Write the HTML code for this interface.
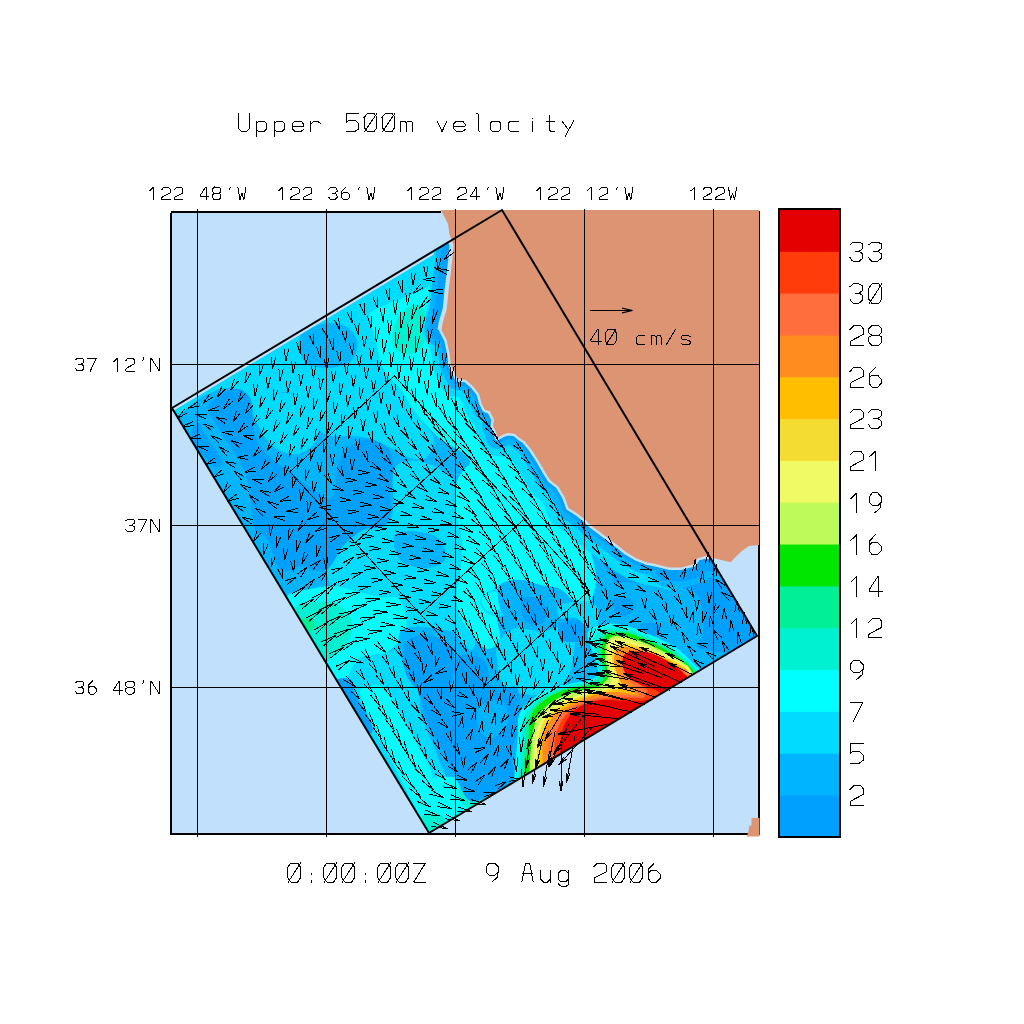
<!DOCTYPE html><html><head><meta charset="utf-8"><style>html,body{margin:0;padding:0;background:#fff;font-family:"Liberation Sans",sans-serif}svg{display:block}</style></head><body>
<svg width="1024" height="1024" viewBox="0 0 1024 1024">
<rect width="1024" height="1024" fill="#fff"/>
<defs><clipPath id="dom"><polygon points="172.0,408.0 502.0,210.0 757.0,636.0 429.0,833.0"/></clipPath><clipPath id="domf"><polygon points="173.6,410.9 503.6,212.9 757.0,636.0 429.0,833.0"/></clipPath></defs>
<rect x="172" y="213" width="586" height="620" fill="#c0e0fc"/>
<g clip-path="url(#domf)">
<polygon points="172.0,408.0 502.0,210.0 757.0,636.0 429.0,833.0" fill="#00b4ff"/>
<defs></defs><path d="M172.0 408.0C217.3 379.0 405.3 265.0 452.0 240.0C498.7 215.0 455.7 250.5 452.0 258.0C448.3 265.5 443.0 276.3 430.0 285.0C417.0 293.7 383.8 303.8 374.0 310.0C364.2 316.2 370.7 316.5 371.0 322.0C371.3 327.5 373.8 335.0 376.0 343.0C378.2 351.0 379.8 362.2 384.0 370.0C388.2 377.8 396.2 383.5 401.0 390.0C405.8 396.5 408.8 403.2 413.0 409.0C417.2 414.8 422.5 419.8 426.0 425.0C429.5 430.2 434.0 434.5 434.0 440.0C434.0 445.5 430.0 455.0 426.0 458.0C422.0 461.0 415.8 459.7 410.0 458.0C404.2 456.3 397.5 451.2 391.0 448.0C384.5 444.8 377.5 441.0 371.0 439.0C364.5 437.0 358.5 436.5 352.0 436.0C345.5 435.5 337.3 437.0 332.0 436.0C326.7 435.0 323.2 434.3 320.0 430.0C316.8 425.7 316.3 415.5 313.0 410.0C309.7 404.5 304.7 400.0 300.0 397.0C295.3 394.0 290.7 391.8 285.0 392.0C279.3 392.2 271.3 395.2 266.0 398.0C260.7 400.8 257.3 410.0 253.0 409.0C248.7 408.0 244.7 395.5 240.0 392.0C235.3 388.5 231.7 387.0 225.0 388.0C218.3 389.0 207.5 393.7 200.0 398.0C192.5 402.3 184.7 412.3 180.0 414.0C175.3 415.7 126.7 437.0 172.0 408.0Z" fill="#00dcff"/>
<path d="M300.0 337.0C302.8 330.7 314.5 325.8 322.0 324.0C329.5 322.2 339.2 323.2 345.0 326.0C350.8 328.8 355.8 335.3 357.0 341.0C358.2 346.7 356.5 355.5 352.0 360.0C347.5 364.5 337.8 367.7 330.0 368.0C322.2 368.3 310.0 367.2 305.0 362.0C300.0 356.8 297.2 343.3 300.0 337.0Z" fill="#00b4ff"/>
<path d="M253.0 409.0C254.0 403.8 260.8 400.7 266.0 398.0C271.2 395.3 277.5 393.0 284.0 393.0C290.5 393.0 299.5 395.0 305.0 398.0C310.5 401.0 314.5 405.8 317.0 411.0C319.5 416.2 320.7 423.3 320.0 429.0C319.3 434.7 316.8 440.8 313.0 445.0C309.2 449.2 302.3 453.0 297.0 454.0C291.7 455.0 285.7 453.0 281.0 451.0C276.3 449.0 272.5 445.7 269.0 442.0C265.5 438.3 262.7 434.5 260.0 429.0C257.3 423.5 252.0 414.2 253.0 409.0Z" fill="#00dcff"/>
<path d="M374.0 310.0C364.2 316.2 370.7 316.5 371.0 322.0C371.3 327.5 373.8 335.0 376.0 343.0C378.2 351.0 379.8 362.2 384.0 370.0C388.2 377.8 396.2 383.5 401.0 390.0C405.8 396.5 408.3 402.7 413.0 409.0C417.7 415.3 423.8 422.5 429.0 428.0C434.2 433.5 438.8 438.2 444.0 442.0C449.2 445.8 455.7 447.7 460.0 451.0C464.3 454.3 469.7 458.5 470.0 462.0C470.3 465.5 464.3 468.2 462.0 472.0C459.7 475.8 457.2 478.5 456.0 485.0C454.8 491.5 454.3 503.5 455.0 511.0C455.7 518.5 458.8 523.0 460.0 530.0C461.2 537.0 462.2 545.2 462.0 553.0C461.8 560.8 460.0 569.2 459.0 577.0C458.0 584.8 455.5 592.7 456.0 600.0C456.5 607.3 458.8 614.5 462.0 621.0C465.2 627.5 470.7 634.3 475.0 639.0C479.3 643.7 483.8 649.0 488.0 649.0C492.2 649.0 498.5 644.2 500.0 639.0C501.5 633.8 497.0 625.2 497.0 618.0C497.0 610.8 498.0 601.3 500.0 596.0C502.0 590.7 504.8 588.3 509.0 586.0C513.2 583.7 519.7 582.2 525.0 582.0C530.3 581.8 535.2 583.8 541.0 585.0C546.8 586.2 554.2 586.2 560.0 589.0C565.8 591.8 570.8 600.2 576.0 602.0C581.2 603.8 587.7 604.2 591.0 600.0C594.3 595.8 596.0 584.8 596.0 577.0C596.0 569.2 593.2 560.8 591.0 553.0C588.8 545.2 586.5 536.3 583.0 530.0C579.5 523.7 575.5 521.7 570.0 515.0C564.5 508.3 556.7 498.3 550.0 490.0C543.3 481.7 537.5 472.5 530.0 465.0C522.5 457.5 511.7 451.7 505.0 445.0C498.3 438.3 495.0 432.5 490.0 425.0C485.0 417.5 480.0 406.7 475.0 400.0C470.0 393.3 463.8 391.7 460.0 385.0C456.2 378.3 453.7 369.2 452.0 360.0C450.3 350.8 450.0 341.7 450.0 330.0C450.0 318.3 452.0 302.5 452.0 290.0C452.0 277.5 453.7 255.8 450.0 255.0C446.3 254.2 442.7 275.8 430.0 285.0C417.3 294.2 383.8 303.8 374.0 310.0Z" fill="#00ffff"/>
<path d="M413.0 305.0C417.2 304.0 421.8 306.0 424.0 310.0C426.2 314.0 426.5 322.7 426.0 329.0C425.5 335.3 424.2 343.8 421.0 348.0C417.8 352.2 411.5 354.0 407.0 354.0C402.5 354.0 396.3 351.7 394.0 348.0C391.7 344.3 392.2 337.3 393.0 332.0C393.8 326.7 395.7 320.5 399.0 316.0C402.3 311.5 408.8 306.0 413.0 305.0Z" fill="#00f0d2"/>
<path d="M394.0 470.0C396.8 461.7 404.2 462.0 410.0 461.0C415.8 460.0 423.3 462.2 429.0 464.0C434.7 465.8 439.8 469.0 444.0 472.0C448.2 475.0 452.2 475.5 454.0 482.0C455.8 488.5 454.0 503.0 455.0 511.0C456.0 519.0 458.8 523.0 460.0 530.0C461.2 537.0 462.2 545.2 462.0 553.0C461.8 560.8 460.0 569.2 459.0 577.0C458.0 584.8 455.5 592.7 456.0 600.0C456.5 607.3 458.8 614.5 462.0 621.0C465.2 627.5 473.7 634.2 475.0 639.0C476.3 643.8 473.8 651.2 470.0 650.0C466.2 648.8 458.5 635.3 452.0 632.0C445.5 628.7 439.7 630.3 431.0 630.0C422.3 629.7 408.3 635.5 400.0 630.0C391.7 624.5 387.8 603.3 381.0 597.0C374.2 590.7 365.8 595.3 359.0 592.0C352.2 588.7 344.2 582.7 340.0 577.0C335.8 571.3 333.5 563.2 334.0 558.0C334.5 552.8 338.2 550.7 343.0 546.0C347.8 541.3 356.2 533.3 363.0 530.0C369.8 526.7 379.0 529.2 384.0 526.0C389.0 522.8 391.3 520.3 393.0 511.0C394.7 501.7 391.2 478.3 394.0 470.0Z" fill="#00dcff"/>
<path d="M500.0 639.0C503.7 633.5 512.2 628.2 519.0 627.0C525.8 625.8 534.2 632.0 541.0 632.0C547.8 632.0 554.3 625.7 560.0 627.0C565.7 628.3 575.0 629.5 575.0 640.0C575.0 650.5 571.0 681.7 560.0 690.0C549.0 698.3 519.5 695.0 509.0 690.0C498.5 685.0 498.5 668.5 497.0 660.0C495.5 651.5 496.3 644.5 500.0 639.0Z" fill="#00dcff"/>
<path d="M330.0 545.0C336.7 537.5 358.3 540.0 370.0 540.0C381.7 540.0 390.0 543.7 400.0 545.0C410.0 546.3 421.3 545.5 430.0 548.0C438.7 550.5 447.7 553.0 452.0 560.0C456.3 567.0 456.3 580.8 456.0 590.0C455.7 599.2 455.2 609.0 450.0 615.0C444.8 621.0 433.3 625.2 425.0 626.0C416.7 626.8 407.5 624.3 400.0 620.0C392.5 615.7 388.3 604.7 380.0 600.0C371.7 595.3 358.3 594.5 350.0 592.0C341.7 589.5 333.3 592.8 330.0 585.0C326.7 577.2 323.3 552.5 330.0 545.0Z" fill="#00dcff"/>
<path d="M395.0 535.0C398.3 530.3 412.5 531.2 420.0 532.0C427.5 532.8 435.8 535.3 440.0 540.0C444.2 544.7 447.5 555.3 445.0 560.0C442.5 564.7 432.5 568.0 425.0 568.0C417.5 568.0 405.0 565.5 400.0 560.0C395.0 554.5 391.7 539.7 395.0 535.0Z" fill="#00b4ff"/>
<path d="M480.0 600.0C481.7 595.0 493.3 588.3 500.0 585.0C506.7 581.7 513.3 579.2 520.0 580.0C526.7 580.8 538.3 585.0 540.0 590.0C541.7 595.0 535.0 605.8 530.0 610.0C525.0 614.2 516.7 614.2 510.0 615.0C503.3 615.8 495.0 617.5 490.0 615.0C485.0 612.5 478.3 605.0 480.0 600.0Z" fill="#00dcff"/>
<path d="M482.0 598.0C483.7 595.0 492.2 591.7 496.0 592.0C499.8 592.3 504.7 597.0 505.0 600.0C505.3 603.0 501.2 608.3 498.0 610.0C494.8 611.7 488.7 612.0 486.0 610.0C483.3 608.0 480.3 601.0 482.0 598.0Z" fill="#00ffff"/>
<path d="M287.0 596.0C289.5 592.3 302.2 590.7 310.0 589.0C317.8 587.3 325.8 585.5 334.0 586.0C342.2 586.5 351.2 590.2 359.0 592.0C366.8 593.8 374.2 595.7 381.0 597.0C387.8 598.3 395.8 594.5 400.0 600.0C404.2 605.5 408.0 621.3 406.0 630.0C404.0 638.7 393.3 647.8 388.0 652.0C382.7 656.2 378.8 653.0 374.0 655.0C369.2 657.0 363.2 660.2 359.0 664.0C354.8 667.8 352.2 673.7 349.0 678.0C345.8 682.3 342.5 688.0 340.0 690.0C337.5 692.0 341.5 703.2 334.0 690.0C326.5 676.8 302.8 626.7 295.0 611.0C287.2 595.3 284.5 599.7 287.0 596.0Z" fill="#00ffff"/>
<path d="M296.0 608.0C297.8 603.8 306.7 602.8 313.0 602.0C319.3 601.2 328.0 601.0 334.0 603.0C340.0 605.0 346.0 609.5 349.0 614.0C352.0 618.5 352.5 624.7 352.0 630.0C351.5 635.3 349.0 641.8 346.0 646.0C343.0 650.2 337.7 652.2 334.0 655.0C330.3 657.8 327.2 664.0 324.0 663.0C320.8 662.0 318.7 655.0 315.0 649.0C311.3 643.0 305.2 633.8 302.0 627.0C298.8 620.2 294.2 612.2 296.0 608.0Z" fill="#00f0d2"/>
<path d="M302.0 619.0C302.7 617.0 307.8 617.2 310.0 618.0C312.2 618.8 314.7 622.0 315.0 624.0C315.3 626.0 313.5 629.0 312.0 630.0C310.5 631.0 307.7 631.8 306.0 630.0C304.3 628.2 301.3 621.0 302.0 619.0Z" fill="#00f096"/>
<path d="M359.0 658.0C363.2 654.7 368.8 656.0 374.0 655.0C379.2 654.0 385.7 653.5 390.0 652.0C394.3 650.5 395.0 641.3 400.0 646.0C405.0 650.7 428.2 674.3 420.0 680.0C411.8 685.7 362.8 680.8 351.0 680.0C339.2 679.2 347.7 678.7 349.0 675.0C350.3 671.3 354.8 661.3 359.0 658.0Z" fill="#00dcff"/>
<path d="M351.0 680.0C361.5 674.8 405.5 674.8 417.0 680.0C428.5 685.2 417.5 700.7 420.0 711.0C422.5 721.3 427.8 731.5 432.0 742.0C436.2 752.5 441.3 766.2 445.0 774.0C448.7 781.8 456.2 784.8 454.0 789.0C451.8 793.2 438.2 793.7 432.0 799.0C425.8 804.3 418.7 815.3 417.0 821.0C415.3 826.7 427.8 840.8 422.0 833.0C416.2 825.2 391.2 789.2 382.0 774.0C372.8 758.8 371.7 752.5 367.0 742.0C362.3 731.5 356.7 721.3 354.0 711.0C351.3 700.7 340.5 685.2 351.0 680.0Z" fill="#00dcff"/>
<path d="M361.0 689.0C364.0 685.8 376.3 683.7 382.0 686.0C387.7 688.3 390.7 696.2 395.0 703.0C399.3 709.8 403.8 719.2 408.0 727.0C412.2 734.8 416.0 742.2 420.0 750.0C424.0 757.8 430.5 766.2 432.0 774.0C433.5 781.8 430.5 789.2 429.0 797.0C427.5 804.8 425.5 819.7 423.0 821.0C420.5 822.3 418.2 812.8 414.0 805.0C409.8 797.2 402.7 783.2 398.0 774.0C393.3 764.8 390.2 757.8 386.0 750.0C381.8 742.2 376.7 734.5 373.0 727.0C369.3 719.5 366.0 711.3 364.0 705.0C362.0 698.7 358.0 692.2 361.0 689.0Z" fill="#00ffff"/>
<path d="M429.0 782.0C434.2 774.7 444.5 777.3 453.0 777.0C461.5 776.7 472.2 777.0 480.0 780.0C487.8 783.0 503.7 788.7 500.0 795.0C496.3 801.3 469.3 812.2 458.0 818.0C446.7 823.8 438.0 829.5 432.0 830.0C426.0 830.5 422.5 829.0 422.0 821.0C421.5 813.0 423.8 789.3 429.0 782.0Z" fill="#00ffff"/>
<path d="M458.0 789.0C460.2 785.3 474.7 784.2 480.0 786.0C485.3 787.8 492.2 796.3 490.0 800.0C487.8 803.7 472.3 809.8 467.0 808.0C461.7 806.2 455.8 792.7 458.0 789.0Z" fill="#00f0d2"/>
<path d="M420.0 818.0C421.7 814.8 434.8 813.0 439.0 814.0C443.2 815.0 446.7 820.8 445.0 824.0C443.3 827.2 433.2 834.0 429.0 833.0C424.8 832.0 418.3 821.2 420.0 818.0Z" fill="#00f0d2"/>
<path d="M208.0 406.0C210.3 402.3 218.8 395.8 224.0 393.0C229.2 390.2 234.7 388.2 239.0 389.0C243.3 389.8 247.8 394.3 250.0 398.0C252.2 401.7 251.5 406.5 252.0 411.0C252.5 415.5 252.3 420.7 253.0 425.0C253.7 429.3 254.3 432.8 256.0 437.0C257.7 441.2 260.3 446.3 263.0 450.0C265.7 453.7 268.5 456.0 272.0 459.0C275.5 462.0 279.8 464.8 284.0 468.0C288.2 471.2 292.2 474.5 297.0 478.0C301.8 481.5 307.2 485.7 313.0 489.0C318.8 492.3 327.8 502.2 332.0 498.0C336.2 493.8 335.3 472.3 338.0 464.0C340.7 455.7 343.8 452.0 348.0 448.0C352.2 444.0 357.8 441.0 363.0 440.0C368.2 439.0 374.3 439.7 379.0 442.0C383.7 444.3 388.7 449.0 391.0 454.0C393.3 459.0 393.2 465.2 393.0 472.0C392.8 478.8 390.3 488.5 390.0 495.0C389.7 501.5 392.0 505.8 391.0 511.0C390.0 516.2 388.7 522.8 384.0 526.0C379.3 529.2 369.8 526.7 363.0 530.0C356.2 533.3 347.8 540.8 343.0 546.0C338.2 551.2 337.2 556.8 334.0 561.0C330.8 565.2 328.0 569.7 324.0 571.0C320.0 572.3 314.2 569.8 310.0 569.0C305.8 568.2 302.8 565.7 299.0 566.0C295.2 566.3 290.8 571.3 287.0 571.0C283.2 570.7 279.2 569.2 276.0 564.0C272.8 558.8 271.5 545.7 268.0 540.0C264.5 534.3 257.7 534.8 255.0 530.0C252.3 525.2 253.0 517.8 252.0 511.0C251.0 504.2 250.2 495.5 249.0 489.0C247.8 482.5 246.8 477.2 245.0 472.0C243.2 466.8 241.0 463.0 238.0 458.0C235.0 453.0 230.5 447.3 227.0 442.0C223.5 436.7 219.8 430.5 217.0 426.0C214.2 421.5 211.5 418.3 210.0 415.0C208.5 411.7 205.7 409.7 208.0 406.0Z" fill="#00a0ff"/>
<path d="M192.0 432.0C192.8 428.7 196.7 422.3 199.0 423.0C201.3 423.7 203.5 431.8 206.0 436.0C208.5 440.2 211.3 443.8 214.0 448.0C216.7 452.2 221.2 457.8 222.0 461.0C222.8 464.2 220.8 466.5 219.0 467.0C217.2 467.5 214.2 466.7 211.0 464.0C207.8 461.3 202.8 454.5 200.0 451.0C197.2 447.5 195.3 446.2 194.0 443.0C192.7 439.8 191.2 435.3 192.0 432.0Z" fill="#00a0ff"/>
<path d="M500.0 585.0C503.7 580.3 515.2 579.8 522.0 580.0C528.8 580.2 534.7 584.0 541.0 586.0C547.3 588.0 553.5 588.0 560.0 592.0C566.5 596.0 580.0 604.7 580.0 610.0C580.0 615.3 565.3 620.7 560.0 624.0C554.7 627.3 552.5 629.0 548.0 630.0C543.5 631.0 539.0 631.0 533.0 630.0C527.0 629.0 517.5 627.7 512.0 624.0C506.5 620.3 502.0 614.5 500.0 608.0C498.0 601.5 496.3 589.7 500.0 585.0Z" fill="#00b4ff"/>
<path d="M522.0 599.0C524.2 595.3 533.8 597.0 538.0 599.0C542.2 601.0 546.5 606.8 547.0 611.0C547.5 615.2 544.7 622.3 541.0 624.0C537.3 625.7 528.2 625.2 525.0 621.0C521.8 616.8 519.8 602.7 522.0 599.0Z" fill="#00a0ff"/>
<path d="M400.0 632.0C405.3 622.3 442.3 628.7 452.0 632.0C461.7 635.3 452.0 648.2 458.0 652.0C464.0 655.8 482.0 648.7 488.0 655.0C494.0 661.3 505.3 684.2 494.0 690.0C482.7 695.8 435.7 699.7 420.0 690.0C404.3 680.3 394.7 641.7 400.0 632.0Z" fill="#00b4ff"/>
<path d="M406.0 642.0C410.3 636.2 423.3 634.8 431.0 636.0C438.7 637.2 448.3 643.2 452.0 649.0C455.7 654.8 453.8 664.2 453.0 671.0C452.2 677.8 452.5 686.8 447.0 690.0C441.5 693.2 427.0 693.2 420.0 690.0C413.0 686.8 407.3 679.0 405.0 671.0C402.7 663.0 401.7 647.8 406.0 642.0Z" fill="#00a0ff"/>
<path d="M456.0 658.0C459.7 652.7 475.7 655.8 481.0 658.0C486.3 660.2 487.5 665.7 488.0 671.0C488.5 676.3 488.8 686.8 484.0 690.0C479.2 693.2 463.7 695.3 459.0 690.0C454.3 684.7 452.3 663.3 456.0 658.0Z" fill="#00a0ff"/>
<path d="M337.0 680.0C338.3 677.3 347.8 677.3 351.0 680.0C354.2 682.7 353.3 690.3 356.0 696.0C358.7 701.7 364.2 708.3 367.0 714.0C369.8 719.7 373.0 727.0 373.0 730.0C373.0 733.0 369.8 734.7 367.0 732.0C364.2 729.3 360.0 720.0 356.0 714.0C352.0 708.0 346.2 701.7 343.0 696.0C339.8 690.3 335.7 682.7 337.0 680.0Z" fill="#00a0ff"/>
<path d="M420.0 688.0C425.3 685.2 444.0 687.3 454.0 686.0C464.0 684.7 472.3 679.3 480.0 680.0C487.7 680.7 493.8 688.7 500.0 690.0C506.2 691.3 513.7 682.7 517.0 688.0C520.3 693.3 521.0 711.0 520.0 722.0C519.0 733.0 512.0 744.5 511.0 754.0C510.0 763.5 517.0 772.5 514.0 779.0C511.0 785.5 500.3 789.3 493.0 793.0C485.7 796.7 476.5 804.2 470.0 801.0C463.5 797.8 458.7 782.5 454.0 774.0C449.3 765.5 446.2 757.8 442.0 750.0C437.8 742.2 432.3 734.8 429.0 727.0C425.7 719.2 423.5 709.5 422.0 703.0C420.5 696.5 414.7 690.8 420.0 688.0Z" fill="#00a0ff"/>
<path d="M479.0 707.0C482.7 702.2 496.2 698.5 501.0 701.0C505.8 703.5 509.3 715.8 508.0 722.0C506.7 728.2 497.8 736.7 493.0 738.0C488.2 739.3 481.3 735.2 479.0 730.0C476.7 724.8 475.3 711.8 479.0 707.0Z" fill="#00b4ff"/>
<path d="M612.0 549.0C636.7 543.8 735.3 530.8 760.0 546.0C784.7 561.2 769.8 622.8 760.0 640.0C750.2 657.2 711.3 652.7 701.0 649.0C690.7 645.3 700.2 625.3 698.0 618.0C695.8 610.7 692.8 608.2 688.0 605.0C683.2 601.8 675.7 601.2 669.0 599.0C662.3 596.8 655.8 593.2 648.0 592.0C640.2 590.8 628.0 594.5 622.0 592.0C616.0 589.5 613.7 584.2 612.0 577.0C610.3 569.8 587.3 554.2 612.0 549.0Z" fill="#00a0ff"/>
<path d="M607.0 585.0C617.3 579.7 653.8 584.2 669.0 586.0C684.2 587.8 692.7 587.2 698.0 596.0C703.3 604.8 705.8 631.8 701.0 639.0C696.2 646.2 679.5 642.5 669.0 639.0C658.5 635.5 648.3 621.5 638.0 618.0C627.7 614.5 612.2 623.5 607.0 618.0C601.8 612.5 596.7 590.3 607.0 585.0Z" fill="#00b4ff"/>
<path d="M612.0 600.0C613.8 597.2 626.5 597.2 630.0 599.0C633.5 600.8 634.8 608.2 633.0 611.0C631.2 613.8 622.5 617.8 619.0 616.0C615.5 614.2 610.2 602.8 612.0 600.0Z" fill="#00a0ff"/>
<path d="M641.0 624.0C643.2 622.2 654.2 622.2 657.0 624.0C659.8 625.8 660.2 633.2 658.0 635.0C655.8 636.8 646.8 636.8 644.0 635.0C641.2 633.2 638.8 625.8 641.0 624.0Z" fill="#00a0ff"/>
<path d="M560.0 624.0C563.8 621.0 578.8 618.5 583.0 621.0C587.2 623.5 587.3 635.5 585.0 639.0C582.7 642.5 573.2 642.0 569.0 642.0C564.8 642.0 561.5 642.0 560.0 639.0C558.5 636.0 556.2 627.0 560.0 624.0Z" fill="#00a0ff"/>
<path d="M560.0 605.0C565.2 602.3 584.5 599.8 591.0 602.0C597.5 604.2 599.0 613.3 599.0 618.0C599.0 622.7 594.8 630.0 591.0 630.0C587.2 630.0 581.2 620.0 576.0 618.0C570.8 616.0 562.7 620.2 560.0 618.0C557.3 615.8 554.8 607.7 560.0 605.0Z" fill="#00dcff"/>
<path d="M512.0 800.0C509.9 793.4 513.6 785.9 514.5 775.6C515.4 765.3 516.8 748.2 517.6 738.1C518.4 728.0 516.7 721.2 519.2 714.7C521.7 708.2 527.1 703.5 532.5 699.1C537.9 694.7 544.8 690.7 551.3 688.1C557.8 685.5 565.4 684.7 571.6 683.4C577.9 682.1 584.4 682.2 588.8 680.3C593.2 678.4 597.5 677.0 598.0 672.0C598.5 667.0 593.7 656.7 592.0 650.0C590.3 643.3 585.5 636.0 588.0 631.6C590.5 627.2 599.9 624.6 606.9 623.8C613.9 623.0 622.5 624.8 630.3 626.9C638.1 629.0 646.0 632.6 653.8 636.3C661.6 639.9 669.9 643.6 677.2 648.8C684.5 654.0 692.9 663.1 697.5 667.5C702.1 671.9 702.9 669.6 705.0 675.0C707.1 680.4 727.5 682.5 710.0 700.0C692.5 717.5 630.5 760.8 600.0 780.0C569.5 799.2 541.7 811.7 527.0 815.0C512.3 818.3 514.1 806.6 512.0 800.0Z" fill="#00ffff"/>
<path d="M515.5 800.0C514.8 797.9 516.0 795.0 516.3 792.6C516.5 790.1 516.8 787.6 517.1 785.1C517.3 782.7 517.6 780.2 517.8 777.7C518.1 775.2 518.3 772.7 518.5 770.3C518.8 767.8 519.0 765.3 519.2 762.8C519.4 760.3 519.7 757.9 519.9 755.4C520.1 752.9 520.3 750.4 520.5 747.9C520.8 745.4 521.0 743.0 521.2 740.5C521.4 738.0 521.6 735.5 521.8 733.0C522.0 730.6 522.3 728.1 522.5 725.6C522.7 723.1 522.5 720.5 523.1 718.2C523.8 715.9 525.2 713.8 526.5 711.8C527.8 709.8 529.4 707.8 531.0 705.9C532.6 704.1 534.2 702.2 536.1 700.6C537.9 699.0 540.1 697.7 542.2 696.4C544.3 695.1 546.5 693.8 548.6 692.6C550.8 691.4 553.0 690.3 555.3 689.4C557.6 688.6 560.1 688.2 562.5 687.5C564.9 686.9 567.4 686.3 569.8 685.7C572.2 685.2 574.6 684.6 577.1 684.1C579.5 683.6 582.1 683.4 584.4 682.8C586.8 682.1 589.0 681.4 591.2 680.3C593.4 679.3 596.2 678.3 597.4 676.6C598.5 674.9 598.1 672.4 598.2 670.2C598.4 668.0 598.6 665.7 598.3 663.4C598.0 661.0 597.0 658.6 596.4 656.1C595.8 653.7 595.2 651.3 594.7 648.8C594.3 646.4 593.4 643.7 593.6 641.5C593.7 639.3 594.2 637.3 595.5 635.6C596.7 634.0 599.0 632.8 600.9 631.5C602.8 630.2 604.8 628.3 607.0 627.6C609.3 627.0 611.9 627.7 614.4 627.8C616.8 627.9 619.3 628.2 621.8 628.4C624.3 628.7 626.8 628.7 629.2 629.3C631.6 629.8 633.9 630.9 636.2 631.8C638.5 632.7 640.8 633.7 643.1 634.6C645.5 635.5 647.8 636.4 650.1 637.4C652.4 638.3 654.6 639.4 656.8 640.6C659.0 641.7 661.2 642.9 663.4 644.0C665.6 645.2 667.9 646.3 670.1 647.5C672.2 648.7 674.5 649.8 676.5 651.2C678.5 652.6 680.3 654.5 682.2 656.1C684.1 657.7 686.0 659.3 687.8 661.0C689.7 662.6 691.5 664.3 693.2 666.1C694.9 667.8 696.6 669.7 698.0 671.7C699.4 673.6 700.9 675.6 701.8 677.8C702.7 680.0 702.8 682.7 703.3 685.1C703.9 687.5 704.5 690.0 704.9 692.4C705.3 694.8 706.6 697.5 705.9 699.5C705.2 701.5 702.6 702.8 700.8 704.3C698.9 705.9 696.8 707.3 694.8 708.8C692.8 710.3 690.8 711.8 688.8 713.3C686.8 714.8 684.8 716.3 682.8 717.8C680.8 719.3 678.9 720.8 676.9 722.3C674.9 723.8 672.9 725.3 670.9 726.8C668.9 728.3 666.9 729.8 664.9 731.3C662.9 732.7 660.9 734.2 658.9 735.7C656.9 737.2 654.9 738.7 653.0 740.2C651.0 741.7 649.0 743.2 647.0 744.7C645.0 746.2 643.0 747.7 641.0 749.2C639.0 750.7 637.0 752.2 635.0 753.7C633.0 755.2 631.0 756.7 629.1 758.2C627.1 759.7 625.1 761.2 623.1 762.7C621.1 764.1 619.1 765.6 617.1 767.1C615.1 768.6 613.1 770.1 611.1 771.6C609.1 773.1 607.2 774.6 605.1 776.1C603.1 777.6 601.2 779.2 599.1 780.4C596.9 781.7 594.6 782.6 592.3 783.7C590.1 784.7 587.8 785.8 585.6 786.9C583.3 787.9 581.1 789.0 578.8 790.1C576.6 791.2 574.3 792.2 572.1 793.3C569.8 794.4 567.6 795.4 565.3 796.5C563.1 797.6 560.8 798.7 558.6 799.7C556.4 800.8 554.1 801.9 551.9 802.9C549.6 804.0 547.4 805.1 545.1 806.2C542.9 807.2 540.6 808.3 538.4 809.4C536.1 810.5 533.7 812.3 531.6 812.6C529.5 812.8 527.6 812.1 525.7 810.9C523.9 809.7 522.3 807.2 520.6 805.4C518.9 803.6 516.2 802.1 515.5 800.0Z" fill="#00f0d2"/>
<path d="M519.0 800.0C518.3 797.9 519.5 795.2 519.8 792.8C520.0 790.4 520.3 788.0 520.6 785.6C520.8 783.2 521.1 780.9 521.3 778.5C521.6 776.1 521.8 773.7 522.1 771.3C522.3 768.9 522.5 766.5 522.8 764.1C523.0 761.7 523.2 759.3 523.5 756.9C523.7 754.5 523.9 752.1 524.2 749.7C524.4 747.3 524.6 744.9 524.9 742.5C525.1 740.1 525.3 737.7 525.5 735.3C525.8 732.9 526.1 730.5 526.3 728.2C526.6 725.8 526.7 723.3 527.1 721.0C527.6 718.7 528.2 716.4 529.2 714.3C530.2 712.2 531.7 710.3 533.2 708.5C534.6 706.6 536.2 704.7 537.9 703.1C539.6 701.4 541.5 700.0 543.5 698.7C545.4 697.3 547.6 696.1 549.7 695.0C551.8 693.8 553.8 692.5 556.0 691.5C558.2 690.6 560.6 690.2 562.9 689.5C565.2 688.9 567.5 688.2 569.9 687.6C572.2 687.0 574.5 686.4 576.9 685.9C579.2 685.3 581.6 685.0 584.0 684.5C586.3 684.0 588.6 683.5 590.8 682.9C593.1 682.2 595.8 682.0 597.4 680.6C599.0 679.3 599.5 676.9 600.3 674.9C601.1 672.9 602.3 671.0 602.4 668.8C602.4 666.6 601.2 664.1 600.6 661.7C600.1 659.4 599.4 657.1 599.0 654.7C598.6 652.4 598.2 649.9 598.3 647.6C598.3 645.3 598.6 643.1 599.4 641.1C600.3 639.2 601.7 637.5 603.2 635.8C604.7 634.1 606.3 631.8 608.3 631.0C610.3 630.2 613.0 630.9 615.4 630.9C617.7 631.0 620.2 631.1 622.6 631.2C625.0 631.4 627.4 631.3 629.7 631.9C632.0 632.4 634.2 633.6 636.4 634.4C638.7 635.3 640.9 636.2 643.1 637.1C645.4 638.0 647.6 638.8 649.8 639.8C652.0 640.8 654.2 641.9 656.3 642.9C658.5 644.0 660.6 645.1 662.8 646.2C664.9 647.3 667.1 648.4 669.2 649.5C671.3 650.7 673.4 651.8 675.4 653.2C677.4 654.6 679.1 656.2 681.0 657.7C682.9 659.2 684.8 660.7 686.6 662.2C688.4 663.8 690.3 665.4 691.8 667.2C693.3 669.0 694.6 671.0 695.7 673.1C696.8 675.2 697.7 677.3 698.4 679.6C699.1 681.8 699.4 684.3 700.0 686.6C700.5 689.0 701.2 691.4 701.6 693.7C701.9 695.9 702.9 698.4 702.1 700.3C701.2 702.2 698.6 703.4 696.7 704.9C694.9 706.4 692.9 707.8 691.0 709.3C689.1 710.8 687.2 712.3 685.3 713.8C683.4 715.2 681.5 716.7 679.6 718.2C677.7 719.7 675.8 721.1 673.9 722.6C672.0 724.1 670.1 725.6 668.2 727.0C666.3 728.5 664.4 730.0 662.5 731.5C660.6 732.9 658.7 734.4 656.8 735.9C654.9 737.4 653.0 738.8 651.1 740.3C649.2 741.8 647.3 743.3 645.4 744.7C643.5 746.2 641.6 747.7 639.7 749.2C637.8 750.6 635.9 752.1 634.0 753.6C632.1 755.1 630.2 756.6 628.3 758.0C626.4 759.5 624.5 761.0 622.6 762.5C620.7 763.9 618.8 765.4 616.9 766.9C615.0 768.4 613.1 769.8 611.2 771.3C609.3 772.8 607.4 774.3 605.5 775.7C603.6 777.2 601.7 778.8 599.7 780.1C597.7 781.3 595.4 782.2 593.2 783.2C591.0 784.3 588.9 785.3 586.7 786.3C584.5 787.3 582.3 788.4 580.2 789.4C578.0 790.4 575.8 791.5 573.6 792.5C571.4 793.5 569.3 794.6 567.1 795.6C564.9 796.6 562.7 797.6 560.6 798.7C558.4 799.7 556.2 800.7 554.0 801.8C551.9 802.8 549.7 803.8 547.5 804.9C545.3 805.9 543.2 806.9 541.0 807.9C538.8 809.0 536.5 810.6 534.5 811.0C532.4 811.5 530.3 811.8 528.6 810.8C526.8 809.9 525.4 807.2 523.8 805.4C522.2 803.6 519.7 802.1 519.0 800.0Z" fill="#00f096"/>
<path d="M522.0 800.0C520.9 792.9 524.3 779.7 525.4 769.4C526.5 759.1 527.5 747.2 528.6 738.1C529.7 729.0 529.5 720.7 531.7 714.7C533.9 708.7 537.6 705.9 541.9 702.2C546.2 698.6 551.2 695.4 557.5 692.8C563.8 690.2 572.6 688.1 579.4 686.6C586.1 685.1 593.6 686.1 598.0 684.0C602.4 681.9 605.3 678.5 606.0 674.0C606.7 669.5 602.5 662.3 602.0 657.0C601.5 651.7 601.8 646.1 603.1 642.2C604.4 638.3 605.3 635.0 609.6 633.6C613.9 632.2 622.1 632.2 628.9 633.6C635.7 635.0 643.2 639.0 650.4 642.2C657.6 645.4 665.5 649.0 671.9 653.0C678.3 657.0 685.4 662.7 689.0 665.9C692.6 669.1 691.5 666.6 693.3 672.3C695.1 678.0 715.5 682.0 700.0 700.0C684.5 718.0 628.0 761.3 600.0 780.0C572.0 798.7 545.0 808.7 532.0 812.0C519.0 815.3 523.1 807.1 522.0 800.0Z" fill="#00e600"/>
<path d="M526.5 800.0C525.9 797.9 526.9 795.5 527.1 793.2C527.3 790.9 527.6 788.7 527.8 786.4C528.0 784.1 528.2 781.9 528.4 779.6C528.6 777.3 528.8 775.0 529.0 772.8C529.3 770.5 529.4 768.2 529.6 766.0C529.8 763.7 530.0 761.4 530.2 759.2C530.3 756.9 530.5 754.6 530.7 752.3C530.9 750.1 531.0 747.8 531.2 745.5C531.4 743.3 531.6 741.0 531.9 738.7C532.2 736.5 532.8 734.3 533.2 732.0C533.6 729.8 534.0 727.5 534.5 725.3C535.0 723.1 535.2 720.8 536.1 718.8C537.0 716.8 538.6 715.1 539.9 713.2C541.3 711.4 542.6 709.5 544.2 707.9C545.8 706.3 547.6 705.0 549.4 703.7C551.3 702.4 553.3 701.2 555.2 700.0C557.2 698.9 559.1 697.6 561.2 696.7C563.2 695.7 565.5 695.2 567.6 694.5C569.8 693.8 572.0 693.2 574.2 692.5C576.3 691.9 578.5 691.2 580.7 690.6C582.9 690.1 585.2 689.7 587.4 689.2C589.6 688.8 591.9 688.5 594.1 688.0C596.3 687.5 598.7 687.3 600.5 686.2C602.4 685.1 603.8 683.0 605.2 681.3C606.6 679.6 608.4 677.9 608.8 675.9C609.1 673.9 607.8 671.5 607.3 669.3C606.8 667.0 606.2 664.8 605.9 662.6C605.5 660.3 605.2 658.1 605.2 655.8C605.1 653.6 605.2 651.2 605.4 649.0C605.7 646.8 605.7 644.5 606.6 642.5C607.5 640.6 609.1 638.3 610.8 637.2C612.5 636.2 614.8 636.2 617.0 636.0C619.1 635.9 621.5 636.3 623.8 636.6C626.0 636.8 628.3 636.9 630.5 637.4C632.7 638.0 634.8 639.1 636.9 639.9C639.0 640.7 641.1 641.6 643.2 642.4C645.4 643.2 647.5 644.0 649.6 644.9C651.7 645.8 653.8 646.7 655.8 647.7C657.9 648.7 659.9 649.7 662.0 650.7C664.0 651.7 666.1 652.7 668.1 653.7C670.1 654.8 672.1 655.9 674.1 657.0C676.0 658.1 678.0 659.3 679.9 660.5C681.8 661.8 683.6 663.1 685.4 664.6C687.1 666.0 689.1 667.4 690.3 669.2C691.5 671.0 692.1 673.3 692.8 675.5C693.5 677.6 693.9 679.9 694.5 682.1C695.0 684.3 695.6 686.5 696.1 688.7C696.7 691.0 697.6 693.3 697.8 695.4C698.0 697.5 698.4 699.6 697.4 701.3C696.5 703.0 693.9 704.2 692.2 705.7C690.4 707.2 688.7 708.6 686.9 710.1C685.2 711.5 683.4 713.0 681.7 714.4C679.9 715.9 678.2 717.4 676.4 718.8C674.7 720.3 672.9 721.7 671.2 723.2C669.4 724.6 667.7 726.1 665.9 727.6C664.1 729.0 662.4 730.5 660.6 731.9C658.9 733.4 657.1 734.8 655.4 736.3C653.6 737.8 651.9 739.2 650.1 740.7C648.4 742.1 646.6 743.6 644.9 745.1C643.1 746.5 641.4 748.0 639.6 749.4C637.9 750.9 636.1 752.3 634.4 753.8C632.6 755.3 630.9 756.7 629.1 758.2C627.4 759.6 625.6 761.1 623.9 762.5C622.1 764.0 620.4 765.5 618.6 766.9C616.9 768.4 615.1 769.8 613.4 771.3C611.6 772.7 609.9 774.2 608.1 775.7C606.4 777.1 604.7 778.7 602.9 780.0C601.0 781.4 599.2 782.7 597.2 783.7C595.2 784.8 593.0 785.6 591.0 786.5C588.9 787.5 586.8 788.4 584.7 789.3C582.6 790.2 580.5 791.1 578.4 792.0C576.3 792.9 574.2 793.8 572.2 794.7C570.1 795.6 568.0 796.5 565.9 797.4C563.8 798.3 561.7 799.2 559.6 800.1C557.5 801.1 555.4 802.0 553.4 802.9C551.3 803.8 549.2 804.7 547.1 805.6C545.0 806.5 542.9 807.6 540.8 808.3C538.8 809.1 536.5 810.5 534.8 810.1C533.0 809.6 531.8 807.2 530.5 805.5C529.1 803.9 527.1 802.1 526.5 800.0Z" fill="#befa5a"/>
<path d="M531.0 800.0C530.4 793.2 532.7 779.2 533.3 769.4C533.9 759.6 533.7 749.1 534.8 741.3C535.9 733.5 537.3 727.7 539.7 722.5C542.1 717.3 545.3 713.6 549.3 710.0C553.3 706.4 558.3 703.2 563.8 700.6C569.3 698.0 576.1 696.2 582.5 694.4C588.9 692.6 597.1 692.4 602.0 690.0C606.9 687.6 611.0 685.0 612.0 680.0C613.0 675.0 608.7 665.8 608.0 660.0C607.3 654.2 606.9 648.7 608.0 645.0C609.1 641.3 611.0 638.8 614.7 638.0C618.4 637.2 623.8 638.6 630.3 640.5C636.8 642.4 645.2 645.8 653.8 649.5C662.4 653.2 675.9 659.6 681.9 663.0C687.9 666.4 687.3 663.8 690.0 670.0C692.7 676.2 713.0 680.8 698.0 700.0C683.0 719.2 626.8 766.7 600.0 785.0C573.2 803.3 548.5 807.5 537.0 810.0C525.5 812.5 531.6 806.8 531.0 800.0Z" fill="#f0fa64"/>
<path d="M534.0 800.0C533.6 797.9 534.3 795.6 534.5 793.3C534.6 791.1 534.8 788.9 534.9 786.7C535.1 784.5 535.3 782.3 535.4 780.0C535.6 777.8 535.8 775.6 535.9 773.4C536.1 771.2 536.3 769.0 536.4 766.7C536.5 764.5 536.6 762.3 536.7 760.1C536.8 757.9 536.9 755.6 536.9 753.4C537.0 751.2 537.1 749.0 537.2 746.7C537.3 744.5 537.2 742.3 537.6 740.1C537.9 737.9 538.7 735.8 539.3 733.7C539.9 731.6 540.5 729.4 541.3 727.3C542.0 725.3 542.7 723.1 543.8 721.3C544.9 719.4 546.6 717.8 548.0 716.1C549.4 714.4 550.6 712.4 552.2 710.9C553.8 709.5 555.9 708.5 557.8 707.3C559.6 706.1 561.5 704.9 563.5 703.8C565.4 702.7 567.3 701.6 569.3 700.7C571.3 699.8 573.5 699.2 575.6 698.5C577.7 697.8 579.8 697.0 581.9 696.3C584.0 695.6 586.1 694.9 588.2 694.3C590.4 693.7 592.6 693.3 594.7 692.8C596.9 692.4 599.2 692.1 601.3 691.6C603.4 691.1 605.5 690.5 607.4 689.7C609.3 688.8 611.1 687.6 612.8 686.5C614.4 685.5 616.2 684.6 617.2 683.4C618.1 682.1 618.7 680.9 618.5 679.2C618.3 677.6 616.7 675.4 615.9 673.5C615.1 671.6 614.1 669.8 613.4 667.8C612.8 665.8 612.5 663.7 612.2 661.6C611.8 659.5 611.1 657.1 611.3 655.1C611.5 653.1 612.5 651.2 613.4 649.7C614.3 648.2 615.4 647.0 616.7 646.2C618.0 645.3 619.7 645.2 621.4 644.8C623.0 644.3 624.8 643.6 626.7 643.6C628.6 643.6 630.7 644.3 632.8 644.7C634.9 645.2 637.1 645.7 639.2 646.3C641.3 646.9 643.4 647.5 645.5 648.2C647.6 648.9 649.7 649.7 651.7 650.6C653.8 651.4 655.8 652.3 657.9 653.2C659.9 654.1 661.9 654.9 664.0 655.9C666.0 656.8 668.0 657.8 670.0 658.8C672.0 659.7 674.0 660.6 676.0 661.7C677.9 662.8 679.7 664.0 681.5 665.2C683.4 666.5 685.4 667.6 686.8 669.2C688.2 670.8 689.0 672.8 689.8 674.7C690.7 676.6 691.4 678.7 692.0 680.8C692.7 682.9 693.1 685.1 693.7 687.2C694.3 689.4 695.1 691.6 695.4 693.7C695.7 695.8 695.9 697.8 695.4 699.6C694.8 701.4 693.3 702.9 691.9 704.5C690.5 706.0 688.6 707.5 686.9 708.9C685.2 710.4 683.6 711.9 681.9 713.4C680.3 714.9 678.6 716.3 677.0 717.8C675.3 719.3 673.6 720.8 672.0 722.3C670.3 723.7 668.7 725.2 667.0 726.7C665.3 728.2 663.7 729.7 662.0 731.1C660.4 732.6 658.7 734.1 657.1 735.6C655.4 737.1 653.7 738.6 652.1 740.0C650.4 741.5 648.8 743.0 647.1 744.5C645.4 746.0 643.8 747.4 642.1 748.9C640.5 750.4 638.8 751.9 637.2 753.4C635.5 754.8 633.8 756.3 632.2 757.8C630.5 759.3 628.9 760.8 627.2 762.2C625.6 763.7 623.9 765.2 622.2 766.7C620.6 768.2 618.9 769.6 617.3 771.1C615.6 772.6 613.9 774.1 612.3 775.6C610.6 777.1 609.0 778.5 607.3 780.0C605.7 781.5 604.1 783.2 602.3 784.5C600.6 785.7 598.6 786.7 596.7 787.7C594.7 788.7 592.6 789.5 590.6 790.3C588.5 791.1 586.4 791.9 584.3 792.7C582.2 793.5 580.2 794.3 578.1 795.1C576.0 795.8 573.9 796.6 571.9 797.4C569.8 798.2 567.7 799.0 565.6 799.8C563.5 800.6 561.5 801.4 559.4 802.1C557.3 802.9 555.2 803.7 553.1 804.5C551.1 805.3 549.0 806.1 546.9 806.9C544.8 807.7 542.4 809.4 540.7 809.2C539.0 809.1 537.8 807.5 536.7 806.0C535.6 804.4 534.3 802.1 534.0 800.0Z" fill="#f5dc32"/>
<path d="M536.9 800.0C536.7 797.8 537.3 795.6 537.4 793.3C537.6 791.1 537.7 788.9 537.9 786.7C538.1 784.5 538.2 782.2 538.4 780.0C538.5 777.8 538.7 775.6 538.9 773.4C539.0 771.1 539.2 768.9 539.3 766.7C539.4 764.5 539.5 762.3 539.6 760.0C539.7 757.8 539.7 755.6 539.7 753.4C539.8 751.1 539.8 748.9 539.8 746.7C539.9 744.5 539.7 742.2 540.0 740.0C540.4 737.9 541.2 735.8 541.8 733.7C542.5 731.6 543.3 729.5 544.1 727.4C544.9 725.4 545.6 723.3 546.8 721.4C548.0 719.6 549.7 718.0 551.2 716.4C552.6 714.7 553.8 712.7 555.5 711.3C557.2 709.9 559.3 709.0 561.2 707.9C563.1 706.8 565.1 705.6 567.0 704.5C568.9 703.5 570.8 702.3 572.9 701.4C574.9 700.5 577.0 699.9 579.1 699.1C581.2 698.4 583.3 697.6 585.4 696.9C587.5 696.1 589.6 695.3 591.7 694.7C593.8 694.1 596.0 693.6 598.2 693.2C600.4 692.8 602.6 692.7 604.8 692.3C607.0 691.9 609.1 691.4 611.2 691.0C613.2 690.5 615.2 689.9 617.2 689.4C619.1 689.0 621.1 688.7 622.7 688.2C624.2 687.7 626.6 687.6 626.6 686.5C626.6 685.4 624.0 683.3 622.7 681.6C621.4 680.0 619.9 678.5 618.9 676.7C617.8 674.9 617.0 673.0 616.3 671.0C615.6 669.0 614.9 666.7 614.6 664.7C614.3 662.7 614.3 660.7 614.5 658.9C614.7 657.1 615.0 655.3 615.7 653.8C616.3 652.3 617.2 651.2 618.4 650.0C619.5 648.8 620.9 647.1 622.6 646.5C624.3 645.9 626.4 646.2 628.5 646.3C630.6 646.5 632.9 646.8 635.0 647.1C637.2 647.5 639.4 647.9 641.5 648.5C643.6 649.1 645.7 650.0 647.8 650.7C649.8 651.5 651.9 652.3 654.0 653.1C656.1 653.9 658.2 654.6 660.2 655.5C662.2 656.4 664.2 657.5 666.2 658.5C668.2 659.4 670.2 660.4 672.2 661.4C674.1 662.5 676.0 663.6 677.9 664.7C679.8 665.8 681.9 666.8 683.6 668.2C685.2 669.5 686.7 671.0 687.9 672.7C689.0 674.4 689.8 676.4 690.5 678.4C691.3 680.5 691.6 682.8 692.2 684.9C692.7 687.1 693.4 689.3 693.8 691.4C694.2 693.5 694.8 695.7 694.6 697.6C694.4 699.5 693.8 701.3 692.7 703.0C691.5 704.6 689.4 706.0 687.8 707.5C686.1 709.0 684.5 710.5 682.9 712.0C681.2 713.5 679.6 715.0 678.0 716.5C676.3 718.0 674.7 719.5 673.0 721.0C671.4 722.5 669.8 724.0 668.1 725.6C666.5 727.1 664.9 728.6 663.2 730.1C661.6 731.6 659.9 733.1 658.3 734.6C656.7 736.1 655.0 737.6 653.4 739.1C651.8 740.6 650.1 742.1 648.5 743.6C646.8 745.1 645.2 746.6 643.6 748.1C641.9 749.6 640.3 751.1 638.7 752.7C637.0 754.2 635.4 755.7 633.7 757.2C632.1 758.7 630.5 760.2 628.8 761.7C627.2 763.2 625.6 764.7 623.9 766.2C622.3 767.7 620.6 769.2 619.0 770.7C617.4 772.2 615.7 773.7 614.1 775.2C612.5 776.7 610.8 778.2 609.2 779.8C607.5 781.3 606.0 782.9 604.3 784.3C602.6 785.7 600.9 787.1 599.0 788.2C597.1 789.3 595.0 790.1 593.0 790.9C590.9 791.8 588.8 792.4 586.7 793.2C584.6 794.0 582.5 794.7 580.4 795.5C578.4 796.2 576.3 797.0 574.2 797.7C572.1 798.5 570.0 799.3 567.9 800.0C565.8 800.8 563.7 801.5 561.6 802.3C559.5 803.0 557.4 803.8 555.3 804.6C553.3 805.3 551.2 806.1 549.1 806.8C547.0 807.6 544.5 809.2 542.8 809.1C541.1 809.0 539.9 807.8 539.0 806.3C538.0 804.7 537.2 802.2 536.9 800.0Z" fill="#ffbe00"/>
<path d="M540.0 800.0C540.1 792.2 542.2 773.4 542.6 763.1C543.0 752.8 541.5 744.9 542.6 738.1C543.7 731.3 546.4 726.9 549.1 722.5C551.8 718.1 554.5 715.0 559.0 711.6C563.5 708.2 569.8 705.1 576.3 702.2C582.8 699.3 591.1 695.7 598.1 694.0C605.1 692.3 611.9 692.0 618.0 692.0C624.1 692.0 634.3 695.3 635.0 694.0C635.7 692.7 625.2 688.0 622.0 684.0C618.8 680.0 617.3 674.3 616.0 670.0C614.7 665.7 613.5 661.7 614.0 658.0C614.5 654.3 615.5 649.7 619.0 648.0C622.5 646.3 628.8 646.8 635.0 648.0C641.2 649.2 648.5 651.8 656.0 655.0C663.5 658.2 674.7 664.2 680.0 667.0C685.3 669.8 685.5 666.5 688.0 672.0C690.5 677.5 709.7 680.3 695.0 700.0C680.3 719.7 625.5 771.7 600.0 790.0C574.5 808.3 552.0 808.3 542.0 810.0C532.0 811.7 539.9 807.8 540.0 800.0Z" fill="#ff8c1e"/>
<path d="M545.6 800.0C545.3 797.9 545.9 795.6 546.1 793.4C546.2 791.2 546.4 789.0 546.5 786.8C546.7 784.6 546.8 782.4 547.0 780.2C547.1 778.0 547.3 775.8 547.4 773.6C547.6 771.4 547.8 769.2 547.9 767.0C548.0 764.8 548.1 762.5 548.2 760.3C548.3 758.1 548.3 755.9 548.3 753.7C548.4 751.5 548.4 749.3 548.5 747.1C548.5 744.9 548.4 742.7 548.6 740.5C548.9 738.3 549.4 736.2 550.0 734.1C550.7 732.0 551.6 730.0 552.5 728.0C553.4 725.9 554.1 723.8 555.2 722.0C556.4 720.1 557.9 718.5 559.3 716.9C560.7 715.2 562.2 713.4 563.8 712.0C565.5 710.6 567.4 709.4 569.2 708.3C571.1 707.2 573.1 706.3 575.1 705.3C577.1 704.3 579.0 703.3 581.1 702.5C583.1 701.7 585.2 700.9 587.3 700.3C589.4 699.6 591.5 699.0 593.6 698.4C595.7 697.9 597.8 697.3 599.9 696.9C602.1 696.4 604.2 696.1 606.4 695.9C608.6 695.7 610.8 695.6 613.0 695.4C615.2 695.3 617.4 695.0 619.6 695.0C621.8 694.9 624.0 694.9 626.2 695.0C628.4 695.1 630.6 695.4 632.8 695.5C635.0 695.6 638.5 696.3 639.3 695.7C640.1 695.1 638.3 693.2 637.7 692.0C637.2 690.8 637.1 689.6 636.1 688.3C635.1 686.9 633.1 685.5 631.7 683.9C630.4 682.3 629.2 680.6 628.0 678.9C626.8 677.2 625.6 675.5 624.6 673.8C623.6 672.0 622.6 670.2 621.9 668.4C621.2 666.7 620.5 665.1 620.4 663.3C620.3 661.5 620.6 659.0 621.3 657.5C621.9 656.1 622.9 655.5 624.1 654.7C625.4 653.9 627.0 653.3 628.6 652.7C630.1 652.1 631.8 651.3 633.5 651.1C635.3 651.0 637.2 651.3 639.2 651.6C641.2 651.9 643.5 652.5 645.6 653.0C647.7 653.5 649.9 653.9 652.0 654.4C654.1 655.0 656.1 655.6 658.1 656.4C660.1 657.3 662.1 658.4 664.1 659.3C666.1 660.3 668.0 661.3 670.0 662.3C672.0 663.3 674.0 664.2 675.9 665.2C677.9 666.3 680.0 667.2 681.6 668.6C683.2 670.0 684.3 671.8 685.4 673.6C686.5 675.4 687.2 677.4 688.1 679.3C689.0 681.2 689.9 683.2 690.7 685.2C691.5 687.1 692.5 689.3 693.0 691.2C693.5 693.2 694.0 695.3 693.8 697.1C693.5 698.9 692.2 700.5 691.5 702.1C690.7 703.8 690.3 705.5 689.1 707.1C687.9 708.7 685.9 710.1 684.3 711.6C682.7 713.1 681.1 714.6 679.4 716.1C677.8 717.7 676.2 719.2 674.6 720.7C673.0 722.2 671.4 723.7 669.8 725.2C668.1 726.7 666.5 728.2 664.9 729.7C663.3 731.2 661.7 732.7 660.1 734.2C658.4 735.7 656.8 737.2 655.2 738.7C653.6 740.2 652.0 741.7 650.4 743.2C648.8 744.7 647.1 746.3 645.5 747.8C643.9 749.3 642.3 750.8 640.7 752.3C639.1 753.8 637.4 755.3 635.8 756.8C634.2 758.3 632.6 759.8 631.0 761.3C629.4 762.8 627.8 764.3 626.1 765.8C624.5 767.3 622.9 768.8 621.3 770.3C619.7 771.8 618.1 773.3 616.4 774.8C614.8 776.4 613.2 777.9 611.6 779.4C610.0 780.9 608.5 782.6 606.8 783.9C605.0 785.2 603.1 786.2 601.2 787.2C599.3 788.3 597.3 789.2 595.4 790.1C593.4 791.1 591.5 792.1 589.6 793.0C587.6 794.0 585.6 794.9 583.6 795.7C581.5 796.5 579.4 797.2 577.3 797.9C575.3 798.7 573.2 799.4 571.1 800.2C569.0 800.9 567.0 801.7 564.9 802.4C562.8 803.2 560.7 803.9 558.7 804.7C556.6 805.4 554.2 806.7 552.4 806.9C550.7 807.1 549.1 807.1 548.0 805.9C546.9 804.8 545.9 802.1 545.6 800.0Z" fill="#ff6e3c"/>
<path d="M551.2 800.0C550.7 798.0 551.5 795.6 551.7 793.4C551.8 791.3 552.0 789.1 552.1 786.9C552.2 784.7 552.4 782.5 552.5 780.3C552.7 778.2 552.8 776.0 553.0 773.8C553.1 771.6 553.3 769.4 553.4 767.2C553.5 765.0 553.7 762.9 553.8 760.7C553.9 758.5 554.0 756.3 554.1 754.1C554.2 751.9 554.3 749.7 554.4 747.6C554.5 745.4 554.5 743.2 554.7 741.0C554.9 738.8 555.1 736.7 555.6 734.6C556.2 732.5 557.2 730.5 558.0 728.4C558.8 726.4 559.5 724.3 560.5 722.4C561.5 720.5 562.8 718.8 564.2 717.1C565.6 715.4 567.1 713.8 568.7 712.3C570.3 710.9 571.9 709.3 573.7 708.2C575.5 707.0 577.5 706.2 579.5 705.3C581.5 704.4 583.5 703.7 585.6 702.9C587.6 702.1 589.7 701.3 591.8 700.8C593.9 700.2 596.0 699.8 598.1 699.4C600.3 699.1 602.4 698.9 604.6 698.6C606.7 698.4 608.9 698.3 611.1 698.2C613.2 698.0 615.4 698.0 617.6 697.9C619.8 697.8 622.0 697.7 624.2 697.6C626.4 697.6 628.6 697.6 630.7 697.6C632.9 697.7 635.1 697.9 637.3 697.9C639.4 697.8 642.3 698.0 643.7 697.4C645.1 696.7 645.0 695.1 645.7 694.0C646.4 692.9 648.2 691.8 647.7 690.7C647.3 689.5 644.5 688.3 642.9 687.1C641.3 685.8 639.7 684.5 638.1 683.2C636.5 681.9 634.9 680.6 633.4 679.2C632.0 677.9 630.5 676.5 629.2 675.2C627.8 673.8 626.3 672.8 625.5 671.2C624.7 669.6 624.5 667.3 624.2 665.7C624.0 664.0 623.8 662.8 624.2 661.4C624.5 660.0 625.4 658.7 626.4 657.4C627.3 656.1 628.4 654.4 629.8 653.5C631.2 652.7 632.8 652.4 634.7 652.3C636.6 652.2 639.0 652.8 641.2 653.0C643.3 653.2 645.5 653.4 647.6 653.7C649.8 654.0 651.9 654.1 654.0 654.7C656.0 655.4 657.9 656.6 659.9 657.5C661.8 658.5 663.8 659.5 665.8 660.4C667.7 661.4 669.7 662.3 671.7 663.3C673.6 664.4 675.7 665.3 677.4 666.6C679.0 667.9 680.4 669.6 681.7 671.2C683.1 672.7 684.4 674.4 685.6 676.1C686.9 677.8 688.1 679.5 689.2 681.3C690.3 683.1 691.4 685.1 692.2 687.0C693.0 688.9 693.6 691.0 694.0 692.9C694.3 694.7 694.2 696.5 694.3 698.3C694.3 700.1 695.2 702.0 694.4 703.7C693.7 705.3 691.2 706.6 689.6 708.1C688.0 709.6 686.4 711.0 684.8 712.5C683.1 714.0 681.5 715.5 679.9 717.0C678.3 718.4 676.7 719.9 675.1 721.4C673.5 722.9 671.8 724.4 670.2 725.8C668.6 727.3 667.0 728.8 665.4 730.3C663.8 731.8 662.2 733.2 660.5 734.7C658.9 736.2 657.3 737.7 655.7 739.1C654.1 740.6 652.5 742.1 650.9 743.6C649.2 745.1 647.6 746.5 646.0 748.0C644.4 749.5 642.8 751.0 641.2 752.5C639.6 753.9 637.9 755.4 636.3 756.9C634.7 758.4 633.1 759.9 631.5 761.3C629.9 762.8 628.2 764.3 626.6 765.8C625.0 767.3 623.4 768.7 621.8 770.2C620.2 771.7 618.6 773.2 616.9 774.6C615.3 776.1 613.8 777.7 612.1 779.1C610.4 780.5 608.7 781.7 606.9 782.9C605.2 784.2 603.3 785.3 601.6 786.6C599.8 787.8 598.1 789.0 596.2 790.2C594.4 791.3 592.6 792.4 590.6 793.3C588.6 794.2 586.5 794.9 584.4 795.6C582.4 796.4 580.4 797.2 578.3 798.0C576.3 798.7 574.2 799.5 572.2 800.3C570.1 801.0 568.1 801.8 566.0 802.6C564.0 803.4 561.8 804.5 559.9 804.9C558.0 805.4 556.1 806.1 554.7 805.3C553.3 804.4 551.7 802.0 551.2 800.0Z" fill="#ff3c0a"/>
<path d="M557.0 800.0C556.6 792.0 559.1 767.7 559.8 756.9C560.5 746.1 560.2 741.2 561.4 735.0C562.6 728.8 564.2 724.1 567.2 719.4C570.2 714.7 574.1 710.0 579.4 706.9C584.7 703.8 592.0 701.6 598.8 700.5C605.6 699.4 612.1 700.5 620.0 700.5C627.9 700.5 639.3 701.5 646.0 700.2C652.7 699.0 660.2 695.4 660.0 693.0C659.8 690.6 650.0 688.3 645.0 686.0C640.0 683.7 633.7 682.3 630.0 679.0C626.3 675.7 623.5 670.3 623.0 666.0C622.5 661.7 622.2 655.2 626.7 653.0C631.2 650.8 642.5 651.2 650.0 653.0C657.5 654.8 666.2 660.1 672.0 663.7C677.8 667.3 682.0 671.7 685.0 674.4C688.0 677.1 687.5 675.7 690.0 680.0C692.5 684.3 715.0 681.7 700.0 700.0C685.0 718.3 623.0 772.5 600.0 790.0C577.0 807.5 569.2 803.3 562.0 805.0C554.8 806.7 557.4 808.0 557.0 800.0Z" fill="#e40000"/>
</g>
<g clip-path="url(#dom)">
<polyline points="441.0,210.0 444.0,216.0 448.0,224.0 449.4,234.0 453.5,245.0 452.8,254.7 450.8,272.5 448.7,289.0 446.7,309.0 442.6,323.0 441.5,330.0" fill="none" stroke="#00dcff" stroke-width="38.0" stroke-linejoin="round" stroke-linecap="round"/>
<polyline points="441.5,330.0 446.6,340.0 449.9,354.9 450.7,364.9 454.9,373.2 457.4,379.0 465.7,379.8 473.2,386.4 479.0,393.9 481.5,403.0 484.8,409.7 489.8,411.3 493.9,419.6 493.1,426.3 496.4,432.9 497.2,437.9 503.0,434.6" fill="none" stroke="#00dcff" stroke-width="36.0" stroke-linejoin="round" stroke-linecap="round"/>
<polyline points="503.0,434.6 508.0,432.9 514.7,433.8 519.6,437.9 524.6,441.2 531.3,449.5 537.9,459.5 544.5,471.1 550.0,480.0 558.2,486.4 564.4,496.7 568.5,507.9 576.7,513.1 585.9,520.2 591.0,525.4 599.2,531.5 607.4,537.7 615.6,543.8 625.9,552.0 636.1,558.2 646.4,562.3 656.6,564.3 669.0,567.4" fill="none" stroke="#00dcff" stroke-width="44.0" stroke-linejoin="round" stroke-linecap="round"/>
<polyline points="669.0,567.4 681.3,567.4 693.6,564.3 697.7,558.2 705.9,556.1 714.1,558.2 722.3,560.2 730.5,562.3 736.6,556.1 741.8,551.0 748.9,545.9 760.0,544.9" fill="none" stroke="#00b4ff" stroke-width="40.0" stroke-linejoin="round" stroke-linecap="round"/>
<polyline points="441.0,210.0 444.0,216.0 448.0,224.0 449.4,234.0 453.5,245.0 452.8,254.7 450.8,272.5 448.7,289.0 446.7,309.0 442.6,323.0 441.5,330.0" fill="none" stroke="#00b4ff" stroke-width="34.0" stroke-linejoin="round" stroke-linecap="round"/>
<polyline points="441.5,330.0 446.6,340.0 449.9,354.9 450.7,364.9 454.9,373.2 457.4,379.0 465.7,379.8 473.2,386.4 479.0,393.9 481.5,403.0 484.8,409.7 489.8,411.3 493.9,419.6 493.1,426.3 496.4,432.9 497.2,437.9 503.0,434.6" fill="none" stroke="#00b4ff" stroke-width="22.0" stroke-linejoin="round" stroke-linecap="round"/>
<polyline points="503.0,434.6 508.0,432.9 514.7,433.8 519.6,437.9 524.6,441.2 531.3,449.5 537.9,459.5 544.5,471.1 550.0,480.0 558.2,486.4 564.4,496.7 568.5,507.9 576.7,513.1 585.9,520.2 591.0,525.4 599.2,531.5 607.4,537.7 615.6,543.8 625.9,552.0 636.1,558.2 646.4,562.3 656.6,564.3 669.0,567.4" fill="none" stroke="#00b4ff" stroke-width="24.0" stroke-linejoin="round" stroke-linecap="round"/>
<polyline points="669.0,567.4 681.3,567.4 693.6,564.3 697.7,558.2 705.9,556.1 714.1,558.2 722.3,560.2 730.5,562.3 736.6,556.1 741.8,551.0 748.9,545.9 760.0,544.9" fill="none" stroke="#00a0ff" stroke-width="28.0" stroke-linejoin="round" stroke-linecap="round"/>
<polyline points="441.0,210.0 444.0,216.0 448.0,224.0 449.4,234.0 453.5,245.0 452.8,254.7 450.8,272.5 448.7,289.0 446.7,309.0 442.6,323.0 441.5,330.0" fill="none" stroke="#00a0ff" stroke-width="24.0" stroke-linejoin="round" stroke-linecap="round"/>
<polyline points="441.5,330.0 446.6,340.0 449.9,354.9 450.7,364.9 454.9,373.2 457.4,379.0 465.7,379.8 473.2,386.4 479.0,393.9 481.5,403.0 484.8,409.7 489.8,411.3 493.9,419.6 493.1,426.3 496.4,432.9 497.2,437.9 503.0,434.6" fill="none" stroke="#00a0ff" stroke-width="12.0" stroke-linejoin="round" stroke-linecap="round"/>
<polyline points="503.0,434.6 508.0,432.9 514.7,433.8 519.6,437.9 524.6,441.2 531.3,449.5 537.9,459.5 544.5,471.1 550.0,480.0 558.2,486.4 564.4,496.7 568.5,507.9 576.7,513.1 585.9,520.2 591.0,525.4 599.2,531.5 607.4,537.7 615.6,543.8 625.9,552.0 636.1,558.2 646.4,562.3 656.6,564.3 669.0,567.4" fill="none" stroke="#00a0ff" stroke-width="12.0" stroke-linejoin="round" stroke-linecap="round"/>
</g>
<clipPath id="mapc"><rect x="172" y="210" width="588" height="626"/></clipPath>
<g clip-path="url(#mapc)">
<polyline points="441.0,210.0 444.0,216.0 448.0,224.0 449.4,234.0 453.5,245.0 452.8,254.7 450.8,272.5 448.7,289.0 446.7,309.0 442.6,323.0 441.5,330.0 446.6,340.0 449.9,354.9 450.7,364.9 454.9,373.2 457.4,379.0 465.7,379.8 473.2,386.4 479.0,393.9 481.5,403.0 484.8,409.7 489.8,411.3 493.9,419.6 493.1,426.3 496.4,432.9 497.2,437.9 503.0,434.6 508.0,432.9 514.7,433.8 519.6,437.9 524.6,441.2 531.3,449.5 537.9,459.5 544.5,471.1 550.0,480.0 558.2,486.4 564.4,496.7 568.5,507.9 576.7,513.1 585.9,520.2 591.0,525.4 599.2,531.5 607.4,537.7 615.6,543.8 625.9,552.0 636.1,558.2 646.4,562.3 656.6,564.3 669.0,567.4 681.3,567.4 693.6,564.3 697.7,558.2 705.9,556.1 714.1,558.2 722.3,560.2 730.5,562.3 736.6,556.1 741.8,551.0 748.9,545.9 760.0,544.9" fill="none" stroke="#c0e0fc" stroke-width="5" stroke-linejoin="round"/>
<polyline points="441.0,210.0 444.0,216.0 448.0,224.0 449.4,234.0 453.5,245.0 452.8,254.7 450.8,272.5 448.7,289.0 446.7,309.0 442.6,323.0 441.5,330.0" fill="none" stroke="#c0e0fc" stroke-width="8" stroke-linejoin="round"/>
</g>
<polygon points="441.0,210.0 444.0,216.0 448.0,224.0 449.4,234.0 453.5,245.0 452.8,254.7 450.8,272.5 448.7,289.0 446.7,309.0 442.6,323.0 441.5,330.0 446.6,340.0 449.9,354.9 450.7,364.9 454.9,373.2 457.4,379.0 465.7,379.8 473.2,386.4 479.0,393.9 481.5,403.0 484.8,409.7 489.8,411.3 493.9,419.6 493.1,426.3 496.4,432.9 497.2,437.9 503.0,434.6 508.0,432.9 514.7,433.8 519.6,437.9 524.6,441.2 531.3,449.5 537.9,459.5 544.5,471.1 550.0,480.0 558.2,486.4 564.4,496.7 568.5,507.9 576.7,513.1 585.9,520.2 591.0,525.4 599.2,531.5 607.4,537.7 615.6,543.8 625.9,552.0 636.1,558.2 646.4,562.3 656.6,564.3 669.0,567.4 681.3,567.4 693.6,564.3 697.7,558.2 705.9,556.1 714.1,558.2 722.3,560.2 730.5,562.3 736.6,556.1 741.8,551.0 748.9,545.9 759.0,544.9 759.0,210.0" fill="#dc9472"/>
<path d="M197.5 209V837 M326.5 209V837 M455.5 209V837 M584.5 209V837 M713.5 209V837 M172 364.5H760 M172 525.5H760 M172 687.5H760" stroke="#000" stroke-width="1" fill="none"/>
<polygon points="172.0,408.0 502.0,210.0 757.0,636.0 429.0,833.0" fill="none" stroke="#000" stroke-width="2" stroke-linejoin="miter"/>
<path d="M394.3 375.8 L589.4 590.3 L485.7 685.2 L289.8 471.8 Z M459.3 447.3 L355.1 542.9 M524.4 518.8 L420.4 614.1" stroke="#000" stroke-width="1" fill="none" shape-rendering="crispEdges"/>
<path d="M187.4 412.6L177.5 418.5L184.4 409.3M199.7 405.8L188.4 408.1L198.0 401.7M212.7 397.3L203.0 403.3L209.8 394.1M225.5 389.1L217.2 397.1L221.9 386.6M238.2 381.1L230.6 390.4L234.4 379.0M250.8 373.1L244.8 383.5L246.7 371.6M263.3 365.0L259.3 376.3L259.0 364.3M276.0 357.3L272.3 368.7L271.6 356.8M288.6 349.5L285.9 361.2L284.2 349.3M301.0 341.5L300.3 353.5L296.6 342.1M313.5 333.8L313.7 345.3L309.2 334.7M326.0 326.1L327.3 337.5L321.8 327.4M338.7 318.4L340.0 330.3L334.5 319.7M351.5 310.8L352.2 322.8L347.2 311.9M364.2 303.2L365.1 315.2L359.9 304.3M377.0 295.7L377.2 307.7L372.7 296.6M389.8 288.2L389.1 300.2L385.5 288.8M402.4 280.5L402.3 292.5L398.1 281.3M415.4 273.3L413.1 285.1L411.0 273.2M428.0 265.6L426.3 277.4L423.6 265.7M440.9 258.2L438.0 269.8L436.5 257.9M454.0 252.3L444.4 259.6L450.7 249.3M194.0 425.9L182.5 426.2L193.1 421.6M205.7 419.0L195.3 414.0L206.8 414.7M219.4 410.7L207.9 410.8L218.5 406.4M232.8 401.5L223.7 408.6L229.5 398.6M245.5 393.4L238.0 402.1L241.7 391.2M257.8 384.5L255.0 396.2L253.5 384.3M270.5 376.9L267.9 388.6L266.1 376.7M283.3 369.4L279.9 380.9L278.9 368.9M295.9 361.7L292.9 373.3L291.6 361.4M308.6 354.2L305.7 365.3L304.2 353.9M321.0 346.1L320.3 357.6L316.6 346.7M333.7 338.5L333.2 350.0L329.3 339.1M346.4 330.9L345.8 342.4L342.0 331.5M359.1 323.2L358.4 335.2L354.7 323.8M371.8 315.6L371.0 327.6L367.4 316.1M384.5 307.6L383.4 322.6L380.1 307.9M397.4 300.1L395.3 315.0L393.0 300.2M410.1 293.1L407.4 304.8L405.7 292.9M423.2 287.6L412.9 293.7L420.3 284.3M434.9 281.5L423.1 279.6L434.8 277.1M447.2 274.5L433.9 267.6L448.6 270.4M201.4 438.0L190.0 438.6L200.4 433.7M212.4 431.3L203.5 424.0L214.5 427.4M225.4 423.6L215.8 417.3L227.1 419.5M240.2 413.0L233.3 422.2L236.2 411.1M252.9 405.6L245.1 414.1L249.1 403.3M265.5 397.3L259.7 407.8L261.3 395.9M278.1 389.4L273.7 400.5L273.7 388.5M290.6 381.4L287.8 393.1L286.2 381.2M303.2 373.8L300.7 385.5L298.8 373.6M315.9 366.2L313.3 377.9L311.5 366.0M328.5 358.4L326.8 369.8L324.1 358.7M341.1 350.7L339.9 362.2L336.7 351.1M353.8 343.2L352.5 354.6L349.4 343.5M366.7 335.7L364.2 347.4L362.3 335.6M379.5 327.7L376.2 342.3L375.1 327.4M392.1 320.0L389.2 334.7L387.7 319.8M405.0 312.3L401.0 328.3L400.6 311.8M418.0 305.2L411.2 320.2L413.8 303.9M430.9 299.1L419.4 308.6L427.7 296.1M442.5 293.9L427.9 290.7L442.8 289.5M207.7 450.9L197.3 446.0L208.8 446.6M219.6 443.4L211.1 435.7L221.9 439.6M233.5 435.4L222.4 432.3L233.9 431.1M247.5 425.9L238.2 432.7L244.3 422.9M260.3 417.8L251.8 426.3L256.6 415.3M272.9 409.8L265.7 419.4L269.0 407.9M285.5 401.9L279.5 412.3L281.4 400.4M297.9 393.6L295.1 405.2L293.5 393.4M310.6 385.9L308.1 397.6L306.2 385.8M323.3 378.4L320.3 390.0L318.9 378.1M336.0 370.7L333.2 382.4L331.6 370.5M348.5 362.9L346.7 374.8L344.1 363.1M361.2 355.3L359.4 367.2L356.8 355.4M374.1 347.9L371.1 359.5L369.7 347.6M386.8 339.9L383.4 354.4L382.5 339.5M399.5 332.0L396.1 348.1L395.2 331.6M412.3 324.4L408.5 340.5L407.9 324.0M425.0 316.9L420.7 332.8L420.7 316.3M437.9 309.7L432.4 323.7L433.6 308.8M216.5 461.8L205.3 464.8L214.5 457.9M226.6 455.6L219.1 446.8L229.4 452.1M239.8 447.9L231.0 440.5L241.9 444.1M253.1 440.2L242.7 435.2L254.2 435.9M267.6 430.0L259.0 438.4L264.0 427.5M280.3 421.9L273.3 431.7L276.3 420.0M292.9 414.2L286.2 424.1L288.9 412.5M305.5 406.3L300.1 417.0L301.3 405.1M318.1 398.4L313.7 409.6L313.8 397.6M330.7 390.6L327.4 402.1L326.3 390.2M343.4 382.9L340.2 394.5L339.0 382.6M356.0 375.3L353.2 386.9L351.6 375.0M368.7 367.6L366.3 379.3L364.3 367.5M381.4 360.0L378.7 371.7L377.0 359.8M394.1 351.9L391.0 366.6L389.8 351.7M406.9 344.1L403.4 360.3L402.5 343.8M419.6 336.5L415.9 352.6L415.2 336.1M432.3 329.2L428.5 343.7L427.9 328.7M223.9 473.8L213.0 477.5L221.7 470.0M234.8 467.6L225.0 461.5L236.4 463.5M248.3 459.6L237.1 457.3L248.4 455.2M262.2 450.2L252.9 456.9L259.0 447.2M274.9 441.9L267.0 450.9L271.2 439.7M287.6 434.1L280.4 443.7L283.7 432.2M300.3 426.4L293.3 436.2L296.3 424.6M312.9 418.6L306.8 428.9L308.8 417.1M325.6 410.9L319.8 421.4L321.4 409.5M338.1 402.8L334.2 414.2L333.8 402.2M350.7 395.1L347.5 406.7L346.3 394.7M363.4 387.5L360.3 399.0L359.0 387.1M376.0 379.7L373.5 391.5L371.6 379.6M388.7 372.1L386.4 383.8L384.3 372.0M401.4 364.0L398.9 378.8L397.0 363.9M414.2 356.5L411.1 371.1L409.8 356.2M426.9 348.9L423.4 363.5L422.5 348.5M439.6 341.3L436.0 355.9L435.2 340.9M231.5 484.8L223.2 492.8L227.9 482.3M241.3 479.8L233.9 471.0L244.1 476.4M256.3 471.3L244.8 472.3L255.0 467.0M269.6 462.0L261.1 469.8L266.0 459.4M282.2 453.8L275.7 463.3L278.2 452.1M294.9 445.9L289.1 456.4L290.7 444.5M307.6 438.5L301.1 448.5L303.5 436.8M320.2 430.7L314.5 441.2L316.1 429.3M332.9 422.9L327.7 433.7L328.6 421.7M345.5 415.1L341.1 426.3L341.2 414.3M358.1 407.2L354.9 418.8L353.7 406.9M370.7 399.6L367.7 411.2L366.3 399.3M383.3 391.8L381.1 403.6L378.9 391.8M395.9 384.1L394.4 396.0L391.5 384.3M408.6 376.0L407.0 390.9L404.2 376.2M421.4 368.5L419.0 383.3L417.0 368.4M434.2 361.0L430.9 375.7L429.8 360.7M447.0 353.4L443.5 368.0L442.6 353.1M238.5 498.3L227.3 501.1L236.6 494.3M249.1 492.0L240.3 484.6L251.2 488.1M262.4 484.2L252.1 479.0L263.6 480.0M276.9 474.3L268.2 481.8L273.4 471.5M289.4 465.5L284.5 475.9L285.2 464.5M302.1 457.9L297.4 468.4L297.8 456.9M314.8 450.3L310.1 460.8L310.5 449.3M327.4 442.5L323.5 453.3L323.1 441.8M340.2 435.0L335.4 445.5L335.9 434.0M352.8 427.2L348.7 438.5L348.5 426.5M365.3 419.2L363.0 431.0L360.9 419.2M377.9 411.5L376.2 423.4L373.5 411.7M390.4 403.7L389.7 415.7L386.1 404.2M403.1 396.0L402.9 408.0L398.7 396.7M415.7 387.9L415.7 402.9L411.4 388.6M428.6 380.5L427.5 395.4L424.2 380.8M441.5 373.0L439.0 387.8L437.1 373.0M454.3 365.5L451.1 380.2L449.9 365.2M244.0 511.7L234.5 505.2L245.8 507.7M255.8 504.1L249.1 494.8L258.8 500.9M269.6 496.4L259.7 490.5L271.1 492.3M284.1 487.1L273.8 492.1L281.5 483.6M296.7 477.6L292.2 488.2L292.4 476.7M309.4 469.9L305.1 480.6L305.1 469.1M321.8 461.8L319.8 473.2L317.4 461.9M334.5 454.1L332.8 465.5L330.1 454.4M347.2 446.6L345.0 457.9L342.8 446.6M359.9 438.9L358.1 450.3L355.5 439.1M372.2 430.9L372.5 442.9L367.9 431.8M384.7 423.1L386.2 435.0L380.5 424.4M397.3 415.4L399.2 427.3L393.2 416.9M410.0 407.8L412.0 419.7L405.9 409.3M422.6 399.8L425.1 414.6L418.5 401.1M435.6 392.3L436.7 407.3L431.3 393.3M448.5 384.9L448.1 399.9L444.1 385.4M461.4 378.0L459.7 389.4L457.0 378.2M251.3 523.8L242.0 517.1L253.1 519.8M263.6 516.3L255.4 508.2L266.0 512.6M276.5 508.6L267.6 501.4L278.6 504.8M291.1 500.0L279.7 501.5L289.6 495.8M303.9 489.5L300.7 500.5L299.6 489.0M316.6 481.8L313.5 492.9L312.2 481.4M328.1 473.1L331.9 484.0L324.3 475.3M341.1 465.6L343.6 476.9L337.1 467.4M354.6 458.9L352.0 470.1L350.2 458.7M366.7 450.6L368.1 462.0L362.5 451.9M378.8 442.6L382.9 453.4L375.1 444.9M391.4 434.9L396.1 445.9L387.7 437.3M404.1 427.3L408.6 438.4L400.4 429.7M416.9 419.7L421.1 431.0L413.1 422.0M429.5 411.7L434.6 425.8L425.6 413.8M442.4 404.2L446.4 418.6L438.4 406.0M455.3 396.7L458.0 411.4L451.2 398.1M468.2 389.2L469.8 404.1L464.0 390.3M260.8 533.2L253.3 541.8L257.0 530.9M273.2 524.4L270.3 535.5L268.8 524.1M284.8 520.5L273.9 516.9L285.3 516.1M297.9 512.6L286.5 511.2L297.6 508.2M311.3 501.6L307.9 512.6L306.9 501.1M323.9 493.9L321.2 505.0L319.5 493.7M333.5 485.1L343.8 490.3L332.3 489.4M345.6 477.8L356.8 480.5L345.4 482.2M358.3 470.2L369.5 472.8L358.1 474.6M372.4 462.2L380.6 470.2L369.9 465.8M385.8 454.6L391.5 464.6L382.5 457.5M398.4 446.9L404.5 457.3L395.1 449.8M411.2 439.3L416.9 449.9L407.8 442.1M424.0 431.8L429.3 442.5L420.5 434.4M436.4 423.8L443.3 437.1L432.9 426.3M449.3 416.2L455.5 429.8L445.6 418.6M462.1 408.6L467.5 422.6L458.3 410.8M475.0 401.1L479.6 415.3L471.1 403.0M268.0 544.5L263.4 555.0L263.7 543.5M280.7 536.8L276.3 547.5L276.4 536.0M293.4 529.4L288.2 539.7L289.2 528.2M306.3 522.7L297.8 530.6L302.7 520.1M318.7 516.2L307.7 519.8L316.6 512.4M330.5 509.6L319.2 507.6L330.5 505.2M340.3 497.5L351.4 500.3L340.1 501.9M352.9 489.9L364.1 492.5L352.8 494.3M365.7 482.3L376.8 485.2L365.4 486.7M379.5 474.3L388.4 481.6L377.4 478.2M393.1 466.8L398.8 476.8L389.8 469.6M405.7 459.1L411.9 468.8L402.5 462.2M418.6 451.5L424.0 462.2L415.1 454.2M431.3 443.9L436.6 454.7L427.8 446.5M443.6 435.9L451.2 448.8L440.2 438.6M456.3 428.3L463.8 441.3L452.9 431.0M469.1 420.7L476.3 433.8L465.6 423.3M481.9 413.1L488.7 426.4L478.3 415.6M275.3 556.6L271.1 567.3L271.0 555.8M287.9 548.7L284.6 559.8L283.5 548.3M300.7 541.4L296.1 552.0L296.4 540.5M313.6 534.7L305.6 543.0L309.9 532.3M326.0 528.5L314.9 531.5L324.0 524.5M337.6 521.9L326.6 518.4L338.1 517.6M347.4 509.9L358.8 511.3L347.7 514.2M360.4 502.0L371.5 505.1L360.0 506.4M373.1 494.4L384.1 497.6L372.7 498.8M386.2 486.6L396.6 491.4L385.1 490.9M400.1 478.8L407.3 488.4L397.1 482.0M412.9 471.2L419.7 481.0L409.8 474.3M426.0 463.7L431.2 474.5L422.5 466.3M438.7 456.1L443.7 466.5L435.2 458.7M451.2 448.4L456.9 458.4L447.9 451.3M463.5 440.4L471.6 453.0L460.2 443.3M476.2 432.8L484.3 445.4L472.9 435.7M488.9 425.2L497.1 437.8L485.6 428.1M281.9 567.7L283.0 579.2L277.7 569.0M295.0 560.5L293.6 571.9L290.6 560.8M308.2 554.0L301.9 563.6L304.1 552.3M320.7 545.8L316.8 556.6L316.3 545.1M328.7 538.0L339.8 535.1L330.6 542.0M342.6 529.3L353.3 533.3L341.8 533.6M355.1 521.7L366.1 525.3L354.6 526.1M367.7 514.2L378.8 517.1L367.4 518.6M380.5 506.5L391.5 510.0L380.0 510.9M393.4 498.7L404.3 503.8L392.4 503.0M406.9 490.9L415.9 498.8L404.6 494.7M419.8 483.3L428.1 492.0L417.2 486.9M432.6 475.7L440.7 484.5L429.9 479.2M445.7 468.2L452.2 477.7L442.6 471.3M458.6 460.6L464.3 470.6L455.3 463.5M470.9 452.5L478.9 465.2L467.6 455.4M483.5 444.9L492.0 457.3L480.3 447.9M496.1 437.3L504.9 449.4L492.9 440.4M285.2 580.7L296.2 577.3L287.3 584.6M297.6 573.9L306.9 567.2L300.8 576.9M310.4 566.0L320.3 560.2L313.3 569.4M327.8 557.5L326.1 568.8L323.4 557.7M336.2 549.8L347.6 548.5L337.6 554.0M349.4 541.7L361.2 543.8L349.4 546.1M362.2 534.0L373.9 536.5L362.1 538.4M374.9 526.4L386.6 528.9L374.8 530.8M387.8 518.6L399.2 522.3L387.2 523.0M400.8 510.9L411.7 515.8L399.7 515.1M413.5 503.2L424.3 508.4L412.4 507.5M426.4 495.6L436.8 501.6L424.9 499.7M439.2 487.9L449.4 494.2L437.6 492.0M452.6 480.2L460.7 489.1L450.0 483.7M465.6 472.3L473.5 485.0L462.2 475.1M478.3 464.7L486.2 477.4L474.9 467.5M490.8 457.1L499.4 469.3L487.6 460.1M503.4 449.4L512.3 461.5L500.3 452.5M516.5 442.2L522.9 451.8L513.4 445.3M291.9 593.5L305.3 586.6L294.5 597.1M304.9 586.1L314.2 579.2L308.2 589.1M317.7 578.4L327.2 571.9L320.8 581.5M330.7 569.7L342.5 567.7L332.2 573.8M343.0 562.9L353.6 557.1L345.8 566.3M356.3 554.2L368.3 553.7L357.3 558.5M369.5 546.1L381.2 548.6L369.4 550.5M382.3 538.4L393.9 541.6L382.0 542.8M395.1 530.8L406.6 534.2L394.6 535.2M407.9 523.1L419.2 527.3L407.2 527.4M420.7 515.5L431.8 519.9L419.8 519.8M433.6 507.7L444.3 513.3L432.3 511.9M446.5 500.1L456.7 506.4L444.9 504.2M459.4 492.1L470.4 502.3L456.9 495.7M472.8 484.4L481.4 496.7L469.6 487.5M485.5 476.8L493.8 489.3L482.3 479.8M498.2 469.2L506.7 481.5L494.9 472.2M510.8 461.6L519.6 473.7L507.6 464.7M523.9 454.4L530.2 464.0L520.7 457.4M299.1 605.6L314.1 598.8L301.4 609.3M312.0 598.1L325.2 591.1L314.5 601.6M324.6 590.8L336.9 582.2L327.6 594.0M337.9 582.2L349.3 578.6L339.9 586.1M350.7 574.3L362.5 572.1L352.3 578.4M364.1 565.9L375.9 568.1L364.1 570.3M376.9 558.3L388.6 560.8L376.7 562.7M389.7 550.6L401.2 553.8L389.3 555.0M402.5 542.9L413.5 546.4L402.0 547.3M415.3 535.3L426.2 539.0L414.7 539.7M427.6 527.9L439.4 530.1L427.6 532.3M440.7 520.0L451.9 524.3L439.9 524.3M454.0 512.2L463.9 518.9L452.2 516.2M467.2 504.2L476.6 515.9L464.2 507.4M480.5 496.6L487.5 509.8L476.9 499.2M493.1 489.0L500.5 502.0L489.6 491.7M505.6 481.4L513.7 494.0L502.3 484.2M518.2 473.7L526.6 486.2L515.0 476.7M530.9 466.1L539.2 478.6L527.7 469.1M306.2 618.0L322.3 609.8L308.7 621.6M319.1 610.2L333.9 602.9L321.6 613.9M332.1 602.2L346.1 597.0L334.2 606.1M345.1 593.9L359.9 592.1L346.2 598.2M358.4 586.0L370.4 586.1L359.2 590.3M371.3 578.2L383.2 579.7L371.6 582.6M384.3 570.3L395.9 573.5L384.0 574.7M397.0 562.7L408.6 566.0L396.6 567.1M409.8 555.1L420.9 558.3L409.4 559.5M422.6 547.4L433.5 551.1L422.0 551.8M435.5 539.7L446.1 544.3L434.6 544.0M448.3 532.0L458.9 537.6L447.0 536.2M461.0 524.1L473.3 532.6L459.0 528.0M474.8 516.3L483.1 528.8L471.6 519.3M487.9 508.8L494.6 522.2L484.3 511.3M500.5 501.1L507.6 514.4L497.0 503.8M513.0 493.5L520.7 506.4L509.6 496.3M525.7 485.9L533.5 498.7L522.3 488.7M538.4 478.3L546.1 491.2L535.0 481.1M313.7 630.2L328.1 622.0L316.4 633.7M326.5 622.2L341.6 615.6L328.8 626.0M339.4 614.0L355.4 610.3L340.9 618.2M352.4 606.1L367.3 604.4L353.6 610.3M365.4 598.1L380.4 598.8L365.8 602.4M378.8 590.2L390.6 592.4L378.8 594.6M391.6 582.6L403.3 585.2L391.4 587.0M404.4 574.9L415.9 578.1L404.0 579.2M417.1 567.2L428.6 570.6L416.7 571.6M430.0 559.6L440.8 563.5L429.3 563.9M443.1 551.7L453.5 557.7L441.6 555.9M455.8 544.1L466.1 550.2L454.3 548.2M468.5 536.2L480.3 545.4L466.3 540.0M482.1 528.5L490.8 540.7L478.9 531.5M495.1 520.9L502.3 534.0L491.6 523.6M507.8 513.3L515.0 526.4L504.3 515.9M520.5 505.7L527.8 518.8L517.0 508.3M533.2 498.0L540.4 511.2L529.7 500.7M545.9 490.4L553.0 503.7L542.4 493.1M321.1 642.0L336.2 635.3L323.5 645.7M333.9 634.0L349.6 629.0L335.8 638.0M346.8 625.9L363.2 623.9L348.0 630.1M359.8 618.1L374.8 616.9L360.8 622.4M372.9 610.0L387.8 612.1L373.0 614.4M385.7 602.4L400.5 604.7L385.6 606.8M398.9 594.7L410.6 597.4L398.7 599.1M411.8 587.0L423.3 590.4L411.3 591.4M424.5 579.4L435.9 582.9L424.0 583.7M437.4 571.6L448.5 576.1L436.5 575.9M450.4 563.9L460.8 570.0L448.9 568.0M463.0 556.0L475.3 564.6L461.0 559.9M476.4 548.2L486.4 559.4L473.6 551.6M489.8 540.7L496.7 554.0L486.3 543.2M502.8 533.1L508.6 546.9L499.0 535.4M515.3 525.5L521.7 539.1L511.7 527.9M528.0 517.8L534.6 531.3L524.3 520.3M540.7 510.2L547.3 523.7L537.0 512.7M553.4 502.6L559.8 516.2L549.7 505.1M328.5 654.1L343.5 647.4L330.8 657.9M341.2 646.4L356.5 640.3L343.4 650.2M354.7 637.6L369.7 638.3L355.1 642.0M367.4 629.9L382.4 630.8L367.8 634.3M380.5 621.9L395.1 625.5L380.1 626.3M393.2 614.3L407.8 618.0L392.8 618.7M406.4 606.7L417.9 610.1L406.0 611.1M419.1 599.1L430.6 602.5L418.6 603.5M431.7 591.6L443.3 594.5L431.4 596.0M444.6 583.8L455.9 587.7L444.0 588.2M458.2 575.9L467.4 583.6L456.1 579.8M471.4 568.0L479.9 580.4L468.2 571.0M484.4 560.4L491.6 573.6L480.9 563.1M497.4 552.9L503.3 566.7L493.6 555.2M510.2 545.3L515.7 559.2L506.4 547.5M522.8 537.6L528.6 551.5L519.0 539.9M535.4 530.0L541.5 543.7L531.7 532.4M548.1 522.4L554.1 536.1L544.4 524.7M560.9 514.8L566.8 528.6L557.1 517.1M336.0 666.2L349.7 660.1L338.4 669.9M350.3 656.6L363.8 663.2L349.0 660.8M365.1 648.8L371.2 662.4L361.4 651.1M377.1 641.1L386.1 653.0L374.0 644.2M389.0 633.5L400.7 643.0L386.8 637.3M400.9 626.2L414.8 632.0L399.8 630.5M413.8 618.8L425.2 622.6L413.2 623.2M426.7 611.2L437.8 615.6L425.8 615.5M439.0 603.7L450.7 606.6L438.8 608.1M452.4 595.8L462.9 601.6L451.0 600.0M466.1 587.8L474.5 600.2L462.8 590.7M479.6 580.3L484.2 594.6L475.7 582.3M492.3 572.7L497.0 586.9L488.4 574.7M504.8 565.0L510.4 578.9L501.0 567.3M517.5 557.4L523.1 571.3L513.7 559.6M530.2 549.8L535.8 563.7L526.4 552.0M542.9 542.2L548.5 556.1L539.1 544.4M555.6 534.6L561.2 548.5L551.8 536.8M568.3 526.9L573.9 540.9L564.5 529.2M581.2 519.8L585.2 530.6L577.4 522.1M346.1 676.0L356.1 687.2L343.3 679.4M359.9 668.9L364.9 679.8L356.3 671.4M372.7 661.3L377.0 672.5L369.0 663.6M385.6 653.8L389.0 665.3L381.7 655.8M398.0 646.1L402.6 657.2L394.4 648.5M410.7 638.5L415.5 648.9L407.1 641.1M423.4 630.9L428.1 641.4L419.8 633.4M435.3 623.1L443.0 632.2L432.5 626.5M448.0 615.4L455.8 624.6L445.2 618.9M461.5 607.7L466.5 621.8L457.6 609.7M474.1 600.0L479.5 614.0L470.3 602.2M487.0 592.5L491.5 606.8L483.0 594.4M499.9 585.3L503.0 596.9L495.9 587.2M512.3 577.2L516.9 591.5L508.4 579.2M525.0 569.6L529.8 583.8L521.1 571.6M537.7 562.0L542.6 576.1L533.8 564.0M550.3 554.3L555.5 568.4L546.4 556.4M562.9 546.7L568.4 560.7L559.1 548.9M575.6 539.1L581.1 553.0L571.8 541.3M588.6 532.0L592.5 542.8L584.8 534.2M354.5 688.7L359.6 698.9L351.0 691.4M367.2 681.0L372.2 691.9L363.6 683.6M380.2 673.5L383.9 684.9L376.3 675.6M393.2 666.1L395.2 677.9L389.1 667.6M405.5 658.3L409.4 669.6L401.7 660.4M418.4 650.8L421.3 662.0L414.5 652.7M431.5 643.5L432.3 655.0L427.3 644.6M443.9 635.6L446.6 646.8L439.9 637.5M456.2 627.8L460.6 638.9L452.5 630.1M469.0 619.8L473.4 634.2L465.0 621.7M481.6 612.2L486.2 626.5L477.7 614.2M494.4 604.6L498.6 619.0L490.4 606.5M507.5 597.6L509.5 608.9L503.4 599.2M520.2 590.0L522.2 601.3L516.0 591.6M532.8 582.4L535.1 593.6L528.7 584.0M545.2 574.2L549.3 588.6L541.2 576.0M557.7 566.5L562.6 580.7L553.8 568.5M570.3 558.9L575.7 572.8L566.5 561.0M583.0 551.2L588.5 565.2L579.2 553.4M595.9 544.1L600.0 554.8L592.1 546.4M608.3 536.4L613.5 546.6L604.8 539.1M362.1 700.9L366.1 712.2L358.3 703.1M374.5 692.8L380.2 706.7L370.7 695.1M387.5 685.7L391.3 697.0L383.7 687.8M400.5 678.2L403.0 689.9L396.4 679.9M413.4 670.8L414.5 682.3L409.2 672.1M426.8 664.0L423.4 675.0L422.4 663.5M439.6 656.7L435.0 667.2L435.3 655.7M451.7 648.2L451.6 659.7L447.4 649.0M463.9 640.1L466.7 651.7L459.9 641.9M476.3 632.0L480.6 646.4L472.3 633.8M489.2 624.4L492.7 639.0L485.1 626.1M502.1 617.4L504.1 628.7L498.0 619.0M514.8 609.8L516.6 621.2L510.7 611.3M527.5 602.2L529.3 613.6L523.4 603.7M540.3 594.6L541.9 606.0L536.1 596.0M552.8 586.9L555.1 598.2L548.8 588.6M565.0 578.6L570.1 592.7L561.1 580.7M577.6 571.0L583.1 585.0L573.8 573.2M590.3 563.4L595.9 577.3L586.5 565.6M603.0 556.1L608.1 566.4L599.5 558.8M615.2 548.4L622.1 557.6L612.2 551.7M369.2 712.6L374.8 726.5L365.4 714.8M381.9 705.0L387.4 718.9L378.1 707.2M394.9 697.8L398.5 709.3L391.0 699.9M407.9 690.4L409.8 702.3L403.8 691.9M421.2 683.3L420.0 694.8L416.8 683.7M434.3 678.4L423.7 682.9L431.8 674.8M446.7 671.2L435.5 673.7L445.0 667.2M459.6 661.0L455.7 671.9L455.2 660.4M471.5 652.5L472.7 663.9L467.3 653.8M484.1 644.8L485.8 656.2L480.0 646.3M496.6 636.6L499.6 651.3L492.5 638.1M509.5 629.6L511.2 641.0L505.4 631.0M522.2 622.0L523.8 633.3L518.1 623.4M534.9 614.4L536.4 625.8L530.8 615.8M547.7 606.8L548.6 618.3L543.5 608.0M560.3 599.2L561.7 610.6L556.2 600.5M572.4 590.8L577.4 604.9L568.5 592.8M585.0 583.1L590.3 597.2L581.2 585.3M597.6 575.9L602.6 586.3L594.1 578.5M610.0 568.2L616.4 577.7L606.9 571.3M621.4 560.6L631.4 566.3L620.0 564.8M376.7 724.8L381.3 739.1L372.8 726.7M389.3 717.1L394.6 731.2L385.4 719.3M402.5 710.1L404.8 721.9L398.4 711.7M414.7 702.2L419.5 713.2L411.0 704.7M427.2 694.6L432.7 704.7L423.8 697.4M441.0 687.6L441.2 699.1L436.7 688.6M454.2 680.8L450.2 691.6L449.9 680.1M466.4 672.5L466.2 684.0L462.1 673.2M479.1 664.8L478.9 676.3L474.8 665.6M491.7 657.1L492.2 668.6L487.4 658.1M504.2 649.3L505.6 661.2L500.0 650.6M517.0 641.7L518.1 653.7L512.7 642.9M529.5 634.0L531.4 645.9L525.4 635.5M542.3 626.5L543.7 638.0L538.1 627.9M555.2 619.1L555.4 630.6L550.9 620.0M567.9 611.4L567.9 623.4L563.6 612.3M580.6 603.8L580.6 615.8L576.3 604.6M593.4 596.4L592.9 607.8L589.0 597.0M605.7 588.4L607.5 599.8L601.5 589.9M617.2 580.3L624.0 589.6L614.2 583.5M628.5 572.9L639.1 577.3L627.6 577.2M641.3 565.2L651.7 570.1L640.2 569.5M384.4 737.1L387.4 751.8L380.2 738.6M396.8 729.3L401.2 743.7L392.8 731.2M409.7 722.2L412.9 733.7L405.7 724.1M421.9 714.3L427.2 725.1L418.4 717.0M434.1 706.7L441.2 715.7L431.2 710.0M446.5 699.0L454.4 707.5L444.0 702.6M458.7 691.5L468.1 698.0L456.9 695.5M473.6 684.5L474.1 696.0L469.4 685.5M486.9 677.5L483.8 688.6L482.5 677.2M499.3 669.6L497.9 681.0L495.0 669.9M511.8 661.7L511.7 673.7L507.5 662.4M524.4 653.9L525.2 665.9L520.1 655.0M537.1 646.4L537.5 658.4L532.8 647.3M549.7 638.6L550.9 650.6L545.5 639.9M562.5 631.2L562.9 642.7L558.2 632.2M575.2 623.6L575.5 635.1L570.9 624.5M588.0 616.0L588.0 628.0L583.6 616.8M601.2 609.2L597.0 619.9L596.9 608.4M614.1 602.8L605.7 610.6L610.6 600.2M625.8 597.2L614.4 595.5L625.6 592.8M636.5 584.8L645.6 591.8L634.5 588.8M648.5 577.4L659.1 581.9L647.6 581.7M662.9 569.7L668.6 579.6L659.6 572.5M391.5 749.1L395.4 763.6L387.5 750.9M404.1 741.5L408.5 755.9L400.2 743.4M417.0 734.3L420.4 745.8L413.1 736.3M429.4 726.6L434.0 737.1L425.8 729.1M441.5 718.8L448.2 728.2L438.5 722.0M452.2 711.7L463.6 713.5L452.4 716.1M465.7 703.7L475.9 708.9L464.5 707.9M481.3 697.0L479.6 708.4L476.9 697.2M494.3 689.9L490.3 700.6L490.0 689.2M506.8 681.9L504.3 693.2L502.4 681.8M519.5 674.2L517.3 686.0L515.1 674.2M532.1 666.4L530.6 678.3L527.7 666.7M544.9 658.9L542.7 670.7L540.5 659.0M557.0 650.8L558.3 662.7L552.8 652.0M569.8 643.3L570.3 655.3L565.5 644.2M582.8 635.9L581.9 647.4L578.4 636.4M596.2 628.9L589.0 642.0L592.1 627.4M608.6 623.5L597.9 627.7L606.2 619.8M620.8 616.7L609.3 617.1L619.8 612.4M632.6 609.7L621.9 605.6L633.4 605.3M646.2 597.8L645.5 609.3L641.8 598.4M657.7 589.5L663.0 599.6L654.2 592.2M670.4 581.9L675.5 592.2L666.9 584.5M679.7 577.3L686.0 567.7L683.7 579.0M692.7 570.6L695.2 559.4L697.1 570.7M705.3 562.8L708.7 551.8L709.7 563.3M398.5 761.2L404.2 775.0L394.7 763.4M411.4 753.6L416.0 767.9L407.5 755.6M424.6 746.6L426.7 758.4L420.5 748.1M437.2 738.9L439.8 750.2L433.1 740.7M450.0 731.4L451.9 742.7L445.9 733.0M458.7 727.1L462.8 716.4L463.1 727.9M471.5 719.6L475.2 708.7L475.8 720.2M484.1 711.8L488.6 701.2L488.4 712.7M496.8 704.3L500.9 693.5L501.1 705.0M514.5 694.8L508.9 704.8L510.3 693.4M527.1 686.9L522.3 697.8L522.8 685.9M540.0 679.7L533.4 689.7L535.9 678.0M552.4 671.3L548.9 682.8L548.0 670.9M565.4 664.5L558.6 674.4L561.3 662.7M577.7 656.1L574.5 667.2L573.3 655.8M590.7 649.3L584.4 658.9L586.6 647.6M603.3 644.5L585.5 642.0L603.4 640.1M606.0 634.3L597.2 629.6L607.2 630.7M616.3 635.5L597.2 629.6M628.0 629.4L613.5 625.5L628.5 625.1M641.0 621.0L629.5 622.3L639.6 616.8M652.7 609.4L656.3 620.3L648.9 611.5M665.8 602.0L667.6 613.3L661.7 603.5M678.1 594.1L681.8 605.0L674.3 596.3M690.9 586.6L693.9 597.7L687.0 588.5M700.1 582.8L702.5 571.5L704.5 582.9M712.6 574.8L716.7 564.1L716.9 575.6M405.6 773.2L412.5 786.5L402.0 775.8M418.1 765.6L425.8 778.5L414.7 768.4M431.6 758.5L435.2 770.0L427.7 760.6M444.4 751.0L447.7 762.0L440.5 753.1M457.2 743.5L459.9 754.6L453.2 745.3M465.9 738.5L472.8 729.4L469.8 740.5M478.9 731.8L482.2 720.8L483.2 732.2M491.5 724.1L495.1 713.2L495.9 724.7M509.2 715.4L500.9 723.2L505.7 712.8M521.9 707.5L514.3 716.1L518.2 705.3M535.0 699.8L524.0 710.0L531.6 697.1M547.7 692.8L535.0 700.7L544.8 689.4M560.0 685.2L550.2 692.1L556.9 682.2M572.7 677.5L563.8 684.7L569.3 674.6M585.0 671.0L573.8 673.6L583.2 667.0M598.3 663.1L583.9 667.5L596.4 659.1M597.7 656.9L587.7 655.5L597.4 653.0M611.7 654.2L587.7 655.5M607.8 643.9L599.3 638.7L609.2 640.3M624.6 648.2L599.3 638.7M624.5 637.9L615.9 632.8L625.8 634.3M636.6 640.3L615.9 632.8M647.2 634.0L636.7 629.3L648.2 629.7M661.2 622.6L658.0 633.6L656.8 622.2M673.8 614.8L671.6 626.1L669.4 614.8M685.9 606.5L687.3 618.0L681.7 607.9M699.2 599.6L696.7 610.8L694.8 599.5M712.0 592.1L708.8 603.2L707.6 591.8M721.9 588.5L715.4 579.0L725.0 585.3M412.6 785.3L421.1 797.7L409.4 788.3M425.3 777.7L433.5 790.3L422.0 780.6M437.9 770.4L445.6 779.6L435.1 773.8M450.8 762.9L457.8 772.0L447.9 766.2M465.3 756.3L463.6 767.7L460.9 756.5M473.8 748.6L485.3 747.7L475.0 752.8M486.0 743.6L491.1 733.2L490.3 744.7M498.6 735.4L505.5 726.3L502.5 737.4M516.4 726.4L511.8 737.0L512.1 725.5M529.7 718.8L519.9 732.2L525.8 716.7M536.5 719.1L529.0 725.8L533.4 716.8M541.1 709.8L529.0 725.8M546.7 712.0L538.2 717.2L544.2 709.2M554.4 702.4L538.2 717.2M558.0 703.1L548.5 706.3L556.0 699.8M567.5 695.3L548.5 706.3M571.3 693.6L561.4 695.2L570.0 690.0M580.2 688.3L561.4 695.2M591.7 684.5L576.6 678.0L592.9 680.2M605.3 676.4L587.5 674.0L605.4 672.0M597.1 666.8L587.5 664.0L597.5 663.0M620.4 667.0L587.5 664.0M597.2 648.1L588.9 642.6L598.7 644.6M635.1 661.8L588.9 642.6M623.2 646.2L614.9 640.7L624.7 642.7M645.4 653.1L614.9 640.7M655.3 646.6L639.0 638.9L656.7 642.4M667.2 638.5L656.7 633.8L668.2 634.3M678.1 631.0L672.9 620.8L681.6 628.3M689.2 621.9L693.3 611.2L693.5 622.7M706.8 612.2L702.4 622.8L702.5 611.3M719.6 605.1L713.1 614.5L715.6 603.3M729.6 600.6L721.7 592.3L732.2 597.1M419.1 797.5L430.6 807.2L416.8 801.3M431.4 790.0L444.1 797.9L429.6 794.1M443.7 782.6L457.4 788.6L442.5 786.8M456.9 775.1L467.2 780.2L455.8 779.4M467.8 769.7L477.0 762.7L471.1 772.6M480.5 762.6L488.2 754.0L484.3 764.8M493.4 755.7L498.5 745.4L497.6 756.9M510.1 745.0L511.8 756.4L506.0 746.5M523.5 737.5L521.1 752.3L519.1 737.5M532.3 740.9L526.7 749.2L528.7 739.4M535.2 728.9L526.7 749.2M542.7 739.6L537.3 748.1L539.1 738.3M548.3 720.2L537.3 748.1M551.4 733.3L544.7 740.7L548.2 731.3M561.9 712.5L544.7 740.7M552.6 716.6L542.6 717.5L551.5 712.9M577.2 707.6L542.6 717.5M564.2 705.2L554.2 704.1L563.9 701.4M590.1 701.0L554.2 704.1M581.6 694.3L572.0 691.4L582.0 690.5M601.9 694.3L572.0 691.4M599.4 686.3L590.0 682.7L600.0 682.5M613.7 686.9L590.0 682.7M604.5 677.5L595.1 674.0L605.1 673.8M627.7 679.5L595.1 674.0M603.8 662.8L595.0 658.0L605.0 659.2M642.6 673.3L595.0 658.0M617.7 651.4L609.6 645.6L619.3 648.0M655.0 666.6L609.6 645.6M648.0 652.7L639.6 647.2L649.4 649.1M664.6 657.3L639.6 647.2M674.8 651.0L661.6 643.8L676.3 646.9M685.0 642.9L681.8 631.9L688.9 640.9M696.9 634.6L698.3 623.2L701.3 634.3M709.7 627.2L710.1 615.7L714.1 626.5M722.2 619.3L724.2 608.0L726.6 619.2M734.9 611.7L736.8 600.3L739.3 611.6M425.6 810.0L439.4 816.0L424.5 814.2M438.4 802.3L451.9 808.8L437.1 806.5M450.9 794.8L464.8 800.4L449.9 799.1M464.0 787.4L474.8 791.4L463.3 791.7M475.2 781.7L484.7 775.2L478.3 784.8M487.9 774.7L495.8 766.3L491.6 777.0M500.6 767.0L508.5 758.7L504.3 769.4M518.0 757.2L516.4 772.1L513.6 757.3M529.3 759.1L525.7 768.5L525.5 758.5M529.1 748.8L525.7 768.5M539.8 759.8L535.8 769.0L536.0 759.0M542.3 739.7L535.8 769.0M551.8 757.2L548.0 766.5L548.0 756.5M555.1 731.2L548.0 766.5M554.7 759.3L548.8 767.5L551.2 757.7M569.8 722.1L548.8 767.5M560.6 748.1L553.1 754.6L557.6 745.7M584.0 715.4L553.1 754.6M559.3 712.6L549.7 709.8L559.7 708.8M599.5 714.3L549.7 709.8M572.3 701.8L563.0 698.1L573.0 698.0M612.1 707.4L563.0 698.1M593.6 694.0L584.6 689.7L594.6 690.3M623.3 700.0L584.6 689.7M614.5 689.0L605.4 684.8L615.3 685.3M634.5 691.9L605.4 684.8M611.1 675.0L602.4 670.1L612.3 671.3M650.0 685.5L602.4 670.1M624.3 665.6L615.9 660.3L625.7 662.1M662.5 678.3L615.9 660.3M637.5 656.6L629.3 650.9L639.1 653.1M675.1 671.0L629.3 650.9M673.6 658.9L665.6 653.0L675.3 655.5M683.6 661.6L665.6 653.0M692.9 655.3L687.3 645.2L696.3 652.5M707.3 647.6L696.8 643.0L708.3 643.3M718.2 640.0L713.0 629.8L721.7 637.3M729.6 631.6L730.8 620.1L734.0 631.2M742.2 623.8L744.4 612.5L746.6 623.8M432.9 822.0L447.8 829.0L431.5 826.2M445.7 814.5L459.4 820.7L444.5 818.7M458.1 807.0L472.3 811.8L457.4 811.4M470.6 799.4L486.3 804.4L469.8 803.7M483.4 792.4L494.8 792.8L484.0 796.7M495.4 785.6L506.2 781.6L497.7 789.4M509.1 776.9L520.3 779.4L509.0 781.3M525.5 769.0L523.0 786.8L521.1 768.9M536.0 774.6L532.4 783.9L532.2 773.9M536.6 760.3L532.4 783.9M546.9 777.0L543.3 786.4L543.1 776.4M549.6 750.9L543.3 786.4M563.0 781.3L561.1 791.1L559.2 781.3M561.4 741.1L561.1 791.1M570.0 773.5L566.4 782.8L566.3 772.8M575.4 733.6L566.4 782.8M566.5 759.2L558.6 765.3L563.7 756.7M591.7 727.8L558.6 765.3M567.7 734.1L557.7 734.1L567.0 730.3M606.8 724.3L557.7 734.1M579.4 716.8L569.8 713.9L579.8 713.0M619.6 718.9L569.8 713.9M592.5 705.2L583.4 701.2L593.3 701.5M632.1 712.2L583.4 701.2M605.5 696.1L596.5 691.6L606.5 692.4M644.7 704.9L596.5 691.6M626.8 688.8L618.2 683.7L628.1 685.3M655.8 697.4L618.2 683.7M631.5 678.4L622.9 673.3L632.8 674.9M669.9 690.3L622.9 673.3M645.1 668.2L636.9 662.4L646.6 664.8M682.4 683.2L636.9 662.4M675.6 668.6L667.5 662.7L677.2 665.1M691.9 674.2L667.5 662.7M700.9 667.5L693.0 659.2L703.5 663.9M713.6 659.9L705.6 651.7L716.1 656.3M725.0 652.0L722.0 640.9L729.0 650.0M737.0 643.7L738.0 632.3L741.4 643.3M749.6 636.1L751.0 624.7L754.0 635.7" stroke="#000" stroke-width="1" fill="none" shape-rendering="crispEdges"/><path d="M597.2 629.6L604.5 632.9L605.1 631.0ZM587.7 655.5L595.7 656.1L595.6 654.0ZM599.3 638.7L606.4 642.4L607.1 640.5ZM615.9 632.8L623.0 636.4L623.7 634.5ZM529.0 725.8L534.7 720.1L533.0 718.8ZM538.2 717.2L544.8 712.6L543.4 711.1ZM548.5 706.3L555.9 703.3L554.9 701.5ZM561.4 695.2L569.2 693.4L568.5 691.5ZM587.5 664.0L595.3 665.7L595.5 663.7ZM588.9 642.6L595.8 646.6L596.6 644.7ZM614.9 640.7L621.8 644.7L622.6 642.8ZM526.7 749.2L530.7 742.3L528.8 741.5ZM537.3 748.1L541.2 741.1L539.3 740.3ZM544.7 740.7L549.7 734.4L547.9 733.3ZM542.6 717.5L550.5 716.3L549.9 714.3ZM554.2 704.1L562.2 704.4L562.1 702.4ZM572.0 691.4L579.8 693.2L580.0 691.2ZM590.0 682.7L597.7 685.1L598.0 683.1ZM595.1 674.0L602.8 676.4L603.1 674.3ZM595.0 658.0L602.3 661.4L602.9 659.5ZM609.6 645.6L616.4 649.8L617.3 648.0ZM639.6 647.2L646.6 651.2L647.3 649.2ZM525.7 768.5L528.1 760.8L526.0 760.5ZM535.8 769.0L538.5 761.5L536.5 761.0ZM548.0 766.5L550.6 758.9L548.5 758.5ZM548.8 767.5L553.1 760.7L551.2 759.8ZM553.1 754.6L558.8 749.0L557.2 747.8ZM549.7 709.8L557.6 711.5L557.7 709.5ZM563.0 698.1L570.6 700.6L571.0 698.5ZM584.6 689.7L592.0 692.7L592.5 690.7ZM605.4 684.8L612.8 687.7L613.3 685.7ZM602.4 670.1L609.6 673.6L610.3 671.6ZM615.9 660.3L622.9 664.1L623.6 662.2ZM629.3 650.9L636.1 655.0L637.0 653.1ZM665.6 653.0L672.3 657.3L673.2 655.5ZM532.4 783.9L534.8 776.3L532.7 776.0ZM543.3 786.4L545.7 778.7L543.6 778.4ZM561.1 791.1L562.2 783.2L560.1 783.2ZM566.4 782.8L568.8 775.2L566.8 774.8ZM558.6 765.3L564.6 760.0L563.1 758.6ZM557.7 734.1L565.7 733.6L565.3 731.5ZM569.8 713.9L577.6 715.7L577.8 713.7ZM583.4 701.2L590.9 703.9L591.3 701.9ZM596.5 691.6L603.9 694.7L604.5 692.7ZM618.2 683.7L625.3 687.4L626.0 685.4ZM622.9 673.3L630.0 677.0L630.7 675.0ZM636.9 662.4L643.7 666.7L644.6 664.8ZM667.5 662.7L674.2 667.0L675.1 665.1Z" fill="#000"/>
<path d="M171 213V834H759V545" stroke="#000" stroke-width="2" fill="none"/>
<path d="M759.5 211V546" stroke="#000" stroke-width="1" fill="none"/>
<path d="M171 212H441" stroke="#000" stroke-width="2" fill="none"/>
<polygon points="751.5,818 759.5,818 759.5,836.6 746.8,836.6 748.4,831.5 749.3,826 751.5,825.3" fill="#dc9472"/>
<rect x="780" y="210.00" width="59" height="626.00" fill="#e40000"/>
<rect x="780" y="251.80" width="59" height="584.20" fill="#ff3c0a"/>
<rect x="780" y="293.62" width="59" height="542.38" fill="#ff6e3c"/>
<rect x="780" y="335.44" width="59" height="500.56" fill="#ff8c1e"/>
<rect x="780" y="377.26" width="59" height="458.74" fill="#ffbe00"/>
<rect x="780" y="419.08" width="59" height="416.92" fill="#f5dc32"/>
<rect x="780" y="460.90" width="59" height="375.10" fill="#f0fa64"/>
<rect x="780" y="502.72" width="59" height="333.28" fill="#befa5a"/>
<rect x="780" y="544.54" width="59" height="291.46" fill="#00e600"/>
<rect x="780" y="586.36" width="59" height="249.64" fill="#00f096"/>
<rect x="780" y="628.18" width="59" height="207.82" fill="#00f0d2"/>
<rect x="780" y="670.00" width="59" height="166.00" fill="#00ffff"/>
<rect x="780" y="711.82" width="59" height="124.18" fill="#00dcff"/>
<rect x="780" y="753.64" width="59" height="82.36" fill="#00b4ff"/>
<rect x="780" y="795.46" width="59" height="40.54" fill="#00a0ff"/>
<rect x="779" y="209" width="61" height="628" fill="none" stroke="#000" stroke-width="2"/>
<path d="M238.50 113.50L238.50 128.53L241.63 131.50L246.48 131.50L249.81 128.53L249.81 113.50M256.45 121.06L256.45 136.18M256.45 123.22L258.82 121.06L264.14 121.06L266.81 123.94L266.81 128.53L264.14 131.50L258.82 131.50L256.45 129.25M274.40 121.06L274.40 136.18M274.40 123.22L276.77 121.06L282.09 121.06L284.75 123.94L284.75 128.53L282.09 131.50L276.77 131.50L274.40 129.25M292.35 126.10L303.47 126.10L303.47 123.94L301.09 121.06L294.73 121.06L292.35 123.58L292.35 128.80L294.73 131.50L301.09 131.50L303.47 129.52M310.30 121.06L310.30 131.50M310.30 124.84L314.00 121.06L317.52 121.06L320.66 123.67M358.93 113.50L346.20 113.50L346.20 122.86L349.26 120.07L354.86 120.07L358.93 123.85L358.93 128.71L354.86 131.50L346.20 131.50M364.15 117.46L367.33 113.50L374.08 113.50L376.88 117.46L376.88 127.45L374.08 131.50L367.33 131.50L364.15 127.45L364.15 117.46M364.53 131.68L376.88 113.50M382.10 117.46L385.28 113.50L392.03 113.50L394.83 117.46L394.83 127.45L392.03 131.50L385.28 131.50L382.10 127.45L382.10 117.46M382.48 131.68L394.83 113.50M400.05 121.06L400.05 131.50M400.05 122.86L401.57 121.06L404.80 121.06L406.22 122.68L406.22 131.50M406.22 122.86L407.74 121.06L410.97 121.06L412.49 122.68L412.49 131.50M437.19 121.06L442.03 131.50L446.97 121.06M453.90 126.10L465.01 126.10L465.01 123.94L462.64 121.06L456.27 121.06L453.90 123.58L453.90 128.80L456.27 131.50L462.64 131.50L465.01 129.52M476.31 113.50L478.50 114.31L478.50 130.60L479.83 131.50M492.27 121.06L498.63 121.06L500.82 123.58L500.82 128.98L498.63 131.50L492.27 131.50L490.08 128.98L490.08 123.58L492.27 121.06M518.77 121.06L510.41 121.06L508.04 123.58L508.04 128.98L510.41 131.50L518.77 131.50M532.35 121.06L532.35 131.50M532.35 118.00L532.35 118.90M549.54 115.12L549.54 130.15L550.87 131.50L554.19 131.50M546.22 121.06L554.19 121.06M561.98 121.06L568.53 129.97M573.66 121.06L568.53 129.97L565.21 136.18M149.55 190.73L153.34 187.20L153.34 199.80M161.66 189.72L164.02 187.20L168.49 187.20L170.10 188.96L170.10 192.93L162.41 196.97L161.82 197.72L161.82 199.80L170.10 199.80M174.36 189.72L176.72 187.20L181.19 187.20L182.80 188.96L182.80 192.93L175.11 196.97L174.52 197.72L174.52 199.80L182.80 199.80M206.17 199.80L206.17 187.20L205.58 187.20L200.09 195.64L200.09 196.84L208.45 196.84M214.48 187.20L218.87 187.20L220.90 189.09L220.90 191.61L218.87 193.50L214.48 193.50L212.46 191.61L212.46 189.09L214.48 187.20M214.48 193.50L212.46 194.57L212.46 197.72L214.48 199.80L218.87 199.80L220.90 197.72L220.90 194.57L218.87 193.50M230.32 187.20L229.56 189.72M237.86 187.20L240.00 199.80L241.95 193.19L243.90 199.80L246.05 187.20M278.55 190.73L282.34 187.20L282.34 199.80M290.65 189.72L293.02 187.20L297.49 187.20L299.10 188.96L299.10 192.93L291.41 196.97L290.82 197.72L290.82 199.80L299.10 199.80M303.35 189.72L305.72 187.20L310.19 187.20L311.80 188.96L311.80 192.93L304.11 196.97L303.52 197.72L303.52 199.80L311.80 199.80M328.75 189.03L330.95 187.20L334.58 187.20L336.94 188.40L337.11 191.23L334.66 193.19L332.05 193.31M334.66 193.19L336.94 194.76L337.11 197.47L334.66 199.61L330.95 199.80L329.68 198.67L328.75 197.09M345.76 187.20L341.71 191.48L341.71 197.34L343.48 199.80L347.36 199.80L349.64 197.34L349.64 194.76L347.36 192.37L343.48 192.37L341.88 193.88M359.32 187.20L358.56 189.72M366.85 187.20L369.00 199.80L370.95 193.19L372.90 199.80L375.04 187.20M407.55 190.73L411.34 187.20L411.34 199.80M419.65 189.72L422.02 187.20L426.49 187.20L428.10 188.96L428.10 192.93L420.41 196.97L419.82 197.72L419.82 199.80L428.10 199.80M432.35 189.72L434.72 187.20L439.19 187.20L440.80 188.96L440.80 192.93L433.11 196.97L432.52 197.72L432.52 199.80L440.80 199.80M457.75 189.72L460.12 187.20L464.59 187.20L466.20 188.96L466.20 192.93L458.51 196.97L457.92 197.72L457.92 199.80L466.20 199.80M476.87 199.80L476.87 187.20L476.28 187.20L470.79 195.64L470.79 196.84L479.15 196.84M488.32 187.20L487.56 189.72M495.85 187.20L498.00 199.80L499.95 193.19L501.90 199.80L504.04 187.20M536.55 190.73L540.34 187.20L540.34 199.80M548.66 189.72L551.02 187.20L555.49 187.20L557.10 188.96L557.10 192.93L549.41 196.97L548.82 197.72L548.82 199.80L557.10 199.80M561.36 189.72L563.72 187.20L568.19 187.20L569.80 188.96L569.80 192.93L562.11 196.97L561.52 197.72L561.52 199.80L569.80 199.80M587.35 190.73L591.14 187.20L591.14 199.80M599.46 189.72L601.82 187.20L606.29 187.20L607.90 188.96L607.90 192.93L600.21 196.97L599.62 197.72L599.62 199.80L607.90 199.80M617.32 187.20L616.56 189.72M624.86 187.20L627.00 199.80L628.95 193.19L630.90 199.80L633.05 187.20M690.95 190.73L694.74 187.20L694.74 199.80M703.06 189.72L705.42 187.20L709.89 187.20L711.50 188.96L711.50 192.93L703.81 196.97L703.22 197.72L703.22 199.80L711.50 199.80M715.75 189.72L718.12 187.20L722.59 187.20L724.20 188.96L724.20 192.93L716.51 196.97L715.92 197.72L715.92 199.80L724.20 199.80M728.46 187.20L730.60 199.80L732.55 193.19L734.50 199.80L736.65 187.20M75.35 359.88L77.61 358.00L81.36 358.00L83.80 359.24L83.97 362.16L81.45 364.18L78.75 364.31M81.45 364.18L83.80 365.80L83.97 368.60L81.45 370.81L77.61 371.00L76.31 369.83L75.35 368.20M87.95 358.00L96.66 358.00L90.21 371.00M113.76 361.64L117.68 358.00L117.68 371.00M125.75 360.60L128.19 358.00L132.81 358.00L134.46 359.82L134.46 363.92L126.53 368.07L125.92 368.86L125.92 371.00L134.46 371.00M143.68 358.00L142.90 360.60M150.95 371.00L150.95 358.00L159.40 371.00L159.40 358.00M125.75 520.88L128.01 519.00L131.76 519.00L134.20 520.24L134.37 523.16L131.85 525.17L129.15 525.30M131.85 525.17L134.20 526.80L134.37 529.60L131.85 531.80L128.01 532.00L126.71 530.83L125.75 529.21M138.35 519.00L147.06 519.00L140.61 532.00M150.95 532.00L150.95 519.00L159.40 532.00L159.40 519.00M75.35 682.88L77.61 681.00L81.36 681.00L83.80 682.24L83.97 685.16L81.45 687.17L78.75 687.30M81.45 687.17L83.80 688.80L83.97 691.60L81.45 693.80L77.61 694.00L76.31 692.83L75.35 691.21M92.39 681.00L88.21 685.42L88.21 691.47L90.04 694.00L94.05 694.00L96.40 691.47L96.40 688.80L94.05 686.33L90.04 686.33L88.39 687.89M119.77 694.00L119.77 681.00L119.16 681.00L113.50 689.71L113.50 690.95L122.12 690.95M127.84 681.00L132.37 681.00L134.46 682.95L134.46 685.55L132.37 687.50L127.84 687.50L125.75 685.55L125.75 682.95L127.84 681.00M127.84 687.50L125.75 688.61L125.75 691.86L127.84 694.00L132.37 694.00L134.46 691.86L134.46 688.61L132.37 687.50M143.68 681.00L142.90 683.60M150.95 694.00L150.95 681.00L159.40 694.00L159.40 681.00M850.00 789.61L853.66 785.71L860.58 785.71L863.07 788.44L863.07 794.58L851.18 800.82L850.26 801.99L850.26 805.21L863.07 805.21M863.07 743.89L850.00 743.89L850.00 754.03L853.14 751.01L858.88 751.01L863.07 755.10L863.07 760.37L858.88 763.39L850.00 763.39M850.00 702.07L863.07 702.07L853.40 721.57M853.40 660.25L859.01 660.25L863.07 664.54L863.07 669.51L859.41 672.63L853.40 672.63L850.39 669.51L850.39 664.54L853.40 660.25M862.02 669.90L862.02 674.78L856.40 679.75M850.91 623.89L856.79 618.43L856.79 637.93M868.70 622.33L872.36 618.43L879.28 618.43L881.77 621.16L881.77 627.30L869.88 633.54L868.96 634.71L868.96 637.93L881.77 637.93M850.91 582.07L856.79 576.61L856.79 596.11M878.63 596.11L878.63 576.61L877.71 576.61L869.22 589.68L869.22 591.53L882.16 591.53M850.91 540.25L856.79 534.79L856.79 554.29M875.36 534.79L869.09 541.42L869.09 550.49L871.84 554.29L877.85 554.29L881.37 550.49L881.37 546.49L877.85 542.78L871.84 542.78L869.35 545.12M850.91 498.43L856.79 492.97L856.79 512.47M872.10 492.97L877.71 492.97L881.77 497.26L881.77 502.23L878.11 505.35L872.10 505.35L869.09 502.23L869.09 497.26L872.10 492.97M880.72 502.62L880.72 507.50L875.10 512.47M850.00 455.05L853.66 451.15L860.58 451.15L863.07 453.88L863.07 460.02L851.18 466.26L850.26 467.43L850.26 470.65L863.07 470.65M869.61 456.61L875.49 451.15L875.49 470.65M850.00 413.23L853.66 409.33L860.58 409.33L863.07 412.06L863.07 418.20L851.18 424.44L850.26 425.61L850.26 428.83L863.07 428.83M868.70 412.16L872.10 409.33L877.71 409.33L881.37 411.18L881.63 415.57L877.85 418.59L873.80 418.79M877.85 418.59L881.37 421.03L881.63 425.22L877.85 428.54L872.10 428.83L870.14 427.08L868.70 424.64M850.00 371.41L853.66 367.51L860.58 367.51L863.07 370.24L863.07 376.38L851.18 382.62L850.26 383.79L850.26 387.01L863.07 387.01M875.36 367.51L869.09 374.14L869.09 383.21L871.84 387.01L877.85 387.01L881.37 383.21L881.37 379.21L877.85 375.50L871.84 375.50L869.35 377.84M850.00 329.59L853.66 325.69L860.58 325.69L863.07 328.42L863.07 334.56L851.18 340.80L850.26 341.97L850.26 345.19L863.07 345.19M871.84 325.69L878.63 325.69L881.77 328.62L881.77 332.51L878.63 335.44L871.84 335.44L868.70 332.51L868.70 328.62L871.84 325.69M871.84 335.44L868.70 337.10L868.70 341.97L871.84 345.19L878.63 345.19L881.77 341.97L881.77 337.10L878.63 335.44M850.00 286.70L853.40 283.87L859.01 283.87L862.67 285.72L862.93 290.11L859.15 293.13L855.10 293.33M859.15 293.13L862.67 295.57L862.93 299.76L859.15 303.08L853.40 303.37L851.44 301.62L850.00 299.18M868.70 288.16L871.97 283.87L878.89 283.87L881.77 288.16L881.77 298.98L878.89 303.37L871.97 303.37L868.70 298.98L868.70 288.16M869.09 303.56L881.77 283.87M850.00 244.88L853.40 242.05L859.01 242.05L862.67 243.90L862.93 248.29L859.15 251.31L855.10 251.51M859.15 251.31L862.67 253.75L862.93 257.94L859.15 261.26L853.40 261.55L851.44 259.80L850.00 257.36M868.70 244.88L872.10 242.05L877.71 242.05L881.37 243.90L881.63 248.29L877.85 251.31L873.80 251.51M877.85 251.31L881.37 253.75L881.63 257.94L877.85 261.26L872.10 261.55L870.14 259.80L868.70 257.36M598.44 344.70L598.44 329.10L597.71 329.10L590.92 339.55L590.92 341.03L601.27 341.03M605.63 332.53L608.24 329.10L613.78 329.10L616.08 332.53L616.08 341.19L613.78 344.70L608.24 344.70L605.63 341.19L605.63 332.53M605.94 344.86L616.08 329.10M644.94 335.65L638.07 335.65L636.12 337.84L636.12 342.52L638.07 344.70L644.94 344.70M651.02 335.65L651.02 344.70M651.02 337.21L652.27 335.65L654.92 335.65L656.09 337.06L656.09 344.70M656.09 337.21L657.34 335.65L659.99 335.65L661.24 337.06L661.24 344.70M666.38 344.70L675.51 329.10M690.17 336.59L688.77 335.65L682.64 335.65L681.44 336.74L681.44 338.38L682.64 339.47L688.77 340.25L690.17 341.42L690.17 343.37L688.77 344.70L682.64 344.70L681.28 343.45M287.80 867.18L290.98 863.00L297.73 863.00L300.53 867.18L300.53 877.73L297.73 882.00L290.98 882.00L287.80 877.73L287.80 867.18M288.18 882.19L300.53 863.00M311.31 873.45L311.31 874.97M311.31 880.48L311.31 882.00M323.80 867.18L326.98 863.00L333.73 863.00L336.53 867.18L336.53 877.73L333.73 882.00L326.98 882.00L323.80 877.73L323.80 867.18M324.18 882.19L336.53 863.00M341.80 867.18L344.98 863.00L351.73 863.00L354.53 867.18L354.53 877.73L351.73 882.00L344.98 882.00L341.80 877.73L341.80 867.18M342.18 882.19L354.53 863.00M365.31 873.45L365.31 874.97M365.31 880.48L365.31 882.00M377.80 867.18L380.98 863.00L387.73 863.00L390.53 867.18L390.53 877.73L387.73 882.00L380.98 882.00L377.80 877.73L377.80 867.18M378.18 882.19L390.53 863.00M395.80 867.18L398.98 863.00L405.73 863.00L408.53 867.18L408.53 877.73L405.73 882.00L398.98 882.00L395.80 877.73L395.80 867.18M396.18 882.19L408.53 863.00M413.80 863.00L425.49 863.00L413.80 882.00L425.49 882.00M489.11 863.00L494.58 863.00L498.53 867.18L498.53 872.02L494.97 875.07L489.11 875.07L486.18 872.02L486.18 867.18L489.11 863.00M497.51 872.40L497.51 877.15L492.04 882.00M521.80 882.00L525.69 863.00L529.59 863.00L533.20 882.00M522.84 873.83L532.15 873.83M540.27 870.98L540.27 878.77L543.31 882.00L547.50 882.00L550.53 878.77M550.82 870.98L550.82 882.00M560.46 870.98L565.97 870.98L568.63 873.64L568.63 878.77L565.97 881.43L560.46 881.43L558.08 878.77L558.08 873.64L560.46 870.98M568.63 870.98L568.63 884.47L565.88 886.37L561.12 886.37L558.37 883.90M593.80 866.80L597.36 863.00L604.11 863.00L606.53 865.66L606.53 871.64L594.95 877.73L594.05 878.87L594.05 882.00L606.53 882.00M611.80 867.18L614.98 863.00L621.73 863.00L624.53 867.18L624.53 877.73L621.73 882.00L614.98 882.00L611.80 877.73L611.80 867.18M612.18 882.19L624.53 863.00M629.80 867.18L632.98 863.00L639.73 863.00L642.53 867.18L642.53 877.73L639.73 882.00L632.98 882.00L629.80 877.73L629.80 867.18M630.18 882.19L642.53 863.00M654.29 863.00L648.18 869.46L648.18 878.29L650.86 882.00L656.71 882.00L660.15 878.29L660.15 874.40L656.71 870.79L650.86 870.79L648.44 873.07" stroke="#000" stroke-width="1" fill="none" stroke-linejoin="round" stroke-linecap="square" shape-rendering="crispEdges"/>
<path d="M590 310.5H632.5 M622 308.2L632.5 310.5L622 312.8" stroke="#000" stroke-width="1.2" fill="none"/>
</svg></body></html>
